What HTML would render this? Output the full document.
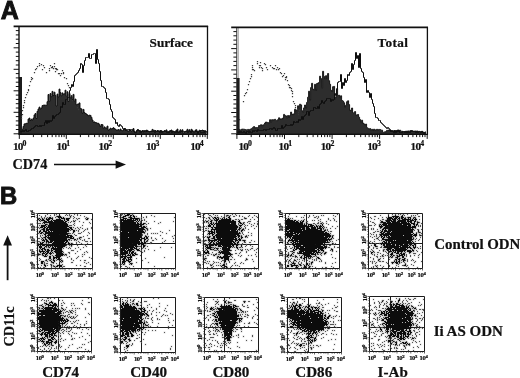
<!DOCTYPE html>
<html lang="en"><head><meta charset="utf-8"><title>CD74 expression – Figure</title>
<style>html,body{margin:0;padding:0;background:#fff}body{width:520px;height:378px;overflow:hidden}svg{display:block;filter:grayscale(1)}text{font-family:"Liberation Serif","DejaVu Serif",serif;font-weight:bold;fill:#111;stroke:#111;stroke-width:.22px}.s{font-family:"Liberation Sans","DejaVu Sans",sans-serif}</style>
</head><body>
<svg width="520" height="378" viewBox="0 0 520 378">
<rect width="520" height="378" fill="#fff"/>
<text class="s" x="0.7" y="18.5" font-size="25" style="stroke-width:.9px">A</text>
<text class="s" x="0" y="204" font-size="23.8" style="stroke-width:.9px">B</text>
<g><path d="M20 134.3V129.2H21V129.8H22V129.2H23V126.4H24V123.9H25V123.8H26V123.3H27V123.4H28V119.1H29V118.1H30V120.5H31V119.2H32V120H33V118.1H34V114.9H35V113.5H36V118.5H37V111.3H38V109H39V107.1H40V108.9H41V108H42V105.6H43V105.2H44V105.1H45V105.2H46V105.4H47V101.7H48V94.5H49V101.3H50V93.6H51V96.7H52V91.4H53V95.5H54V92.2H55V95.4H56V106H57V94.1H58V97H59V89.1H60V92.6H61V95.8H62V92.9H63V94.3H64V93.8H65V90.2H66V96.2H67V91.8H68V101.5H69V93.5H70V97.8H71V95.6H72V99.1H73V94.4H74V101.2H75V99.1H76V104.8H77V104.2H78V104.1H79V102.9H80V108.4H81V108.9H82V113.1H83V109.4H84V112.6H85V113.5H86V114H87V114.9H88V115.8H89V115.2H90V115.4H91V117.4H92V120H93V122.1H94V121.9H95V122.6H96V122.8H97V123.3H98V123.3H99V124.7H100V126.5H101V124.5H102V124.7H103V128.4H104V126.9H105V127.9H106V128H107V126.1H108V130.1H109V129.6H110V128.2H111V128.9H112V128.5H113V127.7H114V128.6H115V129.3H116V130.1H117V130H118V129.6H119V130.8H120V129H121V130.4H122V130.8H123V129.7H124V128.5H125V129.3H126V130.4H127V130.7H128V131.6H129V129.6H130V130.5H131V131H132V130.4H133V128.6H134V131.2H135V132.4H136V131.4H137V129.9H138V130.3H139V130.8H140V132.7H141V131.2H142V130.8H143V132H144V130.7H145V132.2H146V130.2H147V130.4H148V131.4H149V131.9H150V131.3H151V131.1H152V129.4H153V130.3H154V130.4H155V130.5H156V131.4H157V130.7H158V131.6H159V131H160V130.7H161V131.1H162V131.3H163V131.7H164V130.6H165V130.8H166V129.9H167V132.2H168V132.1H169V130.9H170V130.6H171V130H172V131.1H173V131.2H174V132.7H175V131.2H176V130.4H177V129.1H178V132.1H179V131.1H180V129.8H181V131.1H182V129.8H183V133.3H184V131.9H185V131.4H186V130.9H187V129.3H188V130.9H189V129.8H190V131.5H191V129.3H192V130.3H193V131.9H194V132.3H195V130.1H196V129.8H197V131.7H198V131.7H199V130.2H200V130.5H201V130.5H202V130.1H203V130.5H204V132H205V131.5H206V132.6V134.3Z" fill="#2d2d2d" stroke="#0c0c0c" stroke-width=".9"/>
<rect x="19" y="77" width="3" height="57.3" fill="#1c1c1c"/>
<path d="M20.5 131.5H21.5V131.5H22.5V130.5H23.5V131.5H24.5V130.5H25.5V129.5H26.5V131.5H27.5V131.5H28.5V130.5H29.5V130.5H30.5V129.5H31.5V128.5H32.5V128.5H33.5V127.5H34.5V126.5H35.5V125.5H36.5V125.5H37.5V126.5H38.5V126.5H39.5V125.5H40.5V126.5H41.5V125.5H42.5V125.5H43.5V125.5H44.5V122.5H45.5V120.5H46.5V123.5H47.5V120.5H48.5V122.5H49.5V120.5H50.5V121.5H51.5V120.5H52.5V115.5H53.5V118.5H54.5V116.5H55.5V115.5H56.5V114.5H57.5V114.5H58.5V113.5H59.5V112.5H60.5V106.5H61.5V107.5H62.5V102.5H63.5V104.5H64.5V104.5H65.5V99.5H66.5V99.5H67.5V97.5H68.5V97.5H69.5V90.5H70.5V87.5H71.5V84.5H72.5V86.5H73.5V81.5H74.5V75.5H75.5V74.5H76.5V73.5H77.5V72.5H78.5V70.5H79.5V68.5H80.5V63.5H81.5V64.5H82.5V72.5H83.5V65.5H84.5V60.5H85.5V57.5H86.5V57.5H87.5V57.5H88.5V53.5H89.5V58.5H90.5V58.5H91.5V54.5H92.5V54.5H93.5V53.5H94.5V53.5H95.5V63.5H96.5V49.5H97.5V59.5H98.5V63.5H99.5V71.5H100.5V80.5H101.5V86.5H102.5V86.5H103.5V87.5H104.5V88.5H105.5V92.5H106.5V98.5H107.5V98.5H108.5V99.5H109.5V104.5H110.5V109.5H111.5V111.5H112.5V117.5H113.5V118.5H114.5V119.5H115.5V123.5H116.5V122.5H117.5V125.5H118.5V126.5H119.5V124.5H120.5V125.5H121.5V126.5H122.5V128.5H123.5V129.5H124.5V128.5H125.5V130.5H126.5V129.5H127.5V129.5H128.5V129.5H129.5V130.5H130.5V129.5H131.5V129.5H132.5V129.5H133.5V131.5H134.5V132.5H135.5V132.5H136.5V130.5H137.5V129.5H138.5V130.5H139.5V130.5H140.5V132.5H141.5V131.5H142.5V130.5H143.5V131.5H144.5V131.5H145.5V130.5H146.5V131.5H147.5V131.5H148.5V131.5H149.5V131.5H150.5V131.5H151.5V131.5H152.5V131.5H153.5V131.5H154.5V132.5H155.5V131.5H156.5V131.5H157.5V130.5H158.5V131.5H159.5V132.5H160.5V130.5H161.5V132.5H162.5V131.5H163.5V131.5H164.5V131.5H165.5V131.5H166.5V132.5H167.5V131.5H168.5V132.5H169.5V131.5H170.5V131.5H171.5V132.5H172.5V131.5H173.5V131.5H174.5V132.5H175.5V132.5H176.5V130.5H177.5V132.5H178.5V132.5H179.5V132.5H180.5V131.5H181.5V131.5H182.5V131.5H183.5V131.5H184.5V131.5H185.5V131.5H186.5V131.5H187.5V132.5H188.5V131.5H189.5V131.5H190.5V132.5H191.5V131.5H192.5V131.5H193.5V131.5H194.5V131.5H195.5V131.5H196.5V131.5H197.5V133.5H198.5V131.5H199.5V131.5H200.5V132.5H201.5V132.5H202.5V132.5H203.5V132.5H204.5V130.5H205.5V131.5H206.5V132.5" fill="none" stroke="#0e0e0e" stroke-width="1" stroke-linejoin="miter"/>
<path d="M21.5 118.5h0M23.5 105.5h0M24.5 100.5h0M25.5 97.5h0M26.5 94.5h0M27.5 92.5h0M28.5 90.5h0M29.5 85.5h0M30.5 81.5h0M31.5 77.5h0M32.5 78.5h0M36.5 68.5h0M37.5 66.5h0M39.5 63.5h0M41.5 64.5h0M42.5 69.5h0M43.5 65.5h0M44.5 67.5h0M46.5 72.5h0M49.5 70.5h0M50.5 65.5h0M52.5 66.5h0M53.5 68.5h0M54.5 63.5h0M55.5 71.5h0M56.5 68.5h0M62.5 70.5h0M63.5 72.5h0M64.5 77.5h0M67.5 83.5h0M72.5 100.5h0M78.5 109.5h0M21.5 116.5h0M22.5 114.5h0M22.5 110.5h0M23.5 107.5h0M24.5 102.5h0M28.5 89.5h0M31.5 79.5h0M34.5 72.5h0M35.5 69.5h0M39.5 65.5h0M49.5 68.5h0M51.5 67.5h0M52.5 67.5h0M54.5 66.5h0M54.5 66.5h0M55.5 68.5h0M56.5 69.5h0M57.5 69.5h0M58.5 73.5h0M59.5 73.5h0M60.5 75.5h0M61.5 73.5h0M63.5 73.5h0M66.5 78.5h0M68.5 85.5h0M69.5 87.5h0M71.5 95.5h0M72.5 97.5h0M77.5 107.5h0" fill="none" stroke="#3a3a3a" stroke-width="1.25" stroke-linecap="square"/>
<path d="M207.5 26V134.3H18.4" fill="none" stroke="#111" stroke-width="1.3"/>
<path d="M19 26V134.3" stroke="#111" stroke-width="1.4"/>
<path d="M13.6 26.3H208.1" stroke="#111" stroke-width="1.7"/>
<path d="M19 30.6h-3.2M19 34.9h-3.2M19 39.2h-3.2M19 43.5h-3.2M19 47.8h-5.4M19 52.1h-3.2M19 56.4h-3.2M19 60.7h-3.2M19 65h-3.2M19 69.3h-5.4M19 73.6h-3.2M19 77.9h-3.2M19 82.2h-3.2M19 86.5h-3.2M19 90.8h-5.4M19 95.1h-3.2M19 99.4h-3.2M19 103.7h-3.2M19 108h-3.2M19 112.3h-5.4M19 116.6h-3.2M19 120.9h-3.2M19 125.2h-3.2M19 129.5h-3.2M19 133.8h-5.4" stroke="#111" stroke-width="1"/>
<path d="M19.3 134.3v4.6M33.4 134.3v2.8M41.7 134.3v2.8M47.6 134.3v2.8M52.2 134.3v2.8M55.9 134.3v2.8M59 134.3v2.8M61.7 134.3v2.8M64.1 134.3v2.8M66.3 134.3v4.6M80.4 134.3v2.8M88.7 134.3v2.8M94.6 134.3v2.8M99.2 134.3v2.8M102.9 134.3v2.8M106 134.3v2.8M108.7 134.3v2.8M111.1 134.3v2.8M113.3 134.3v4.6M127.4 134.3v2.8M135.7 134.3v2.8M141.6 134.3v2.8M146.2 134.3v2.8M149.9 134.3v2.8M153 134.3v2.8M155.7 134.3v2.8M158.1 134.3v2.8M160.3 134.3v4.6M174.4 134.3v2.8M182.7 134.3v2.8M188.6 134.3v2.8M193.2 134.3v2.8M196.9 134.3v2.8M200 134.3v2.8M202.7 134.3v2.8M205.1 134.3v2.8M207.3 134.3v4.6" stroke="#111" stroke-width="1"/>
<text x="12.9" y="150.4" font-size="11.2" letter-spacing="-.8">10<tspan dy="-4.1" font-size="7.8">0</tspan></text>
<text x="56.6" y="150.4" font-size="11.2" letter-spacing="-.8">10<tspan dy="-4.1" font-size="7.8">1</tspan></text>
<text x="98.6" y="150.4" font-size="11.2" letter-spacing="-.8">10<tspan dy="-4.1" font-size="7.8">2</tspan></text>
<text x="146" y="150.4" font-size="11.2" letter-spacing="-.8">10<tspan dy="-4.1" font-size="7.8">3</tspan></text>
<text x="190.2" y="150.4" font-size="11.2" letter-spacing="-.8">10<tspan dy="-4.1" font-size="7.8">4</tspan></text>
<text x="149.6" y="47" font-size="13.2" letter-spacing="0">Surface</text></g>
<g><path d="M237.6 134.3V132.3H238.6V129.4H239.6V130.4H240.6V129.7H241.6V129.1H242.6V129.2H243.6V129.2H244.6V129.5H245.6V129.8H246.6V130.2H247.6V129.4H248.6V130.1H249.6V129.4H250.6V128.9H251.6V128.4H252.6V127.4H253.6V126.6H254.6V127.8H255.6V127.5H256.6V127.7H257.6V127.5H258.6V125.5H259.6V125.6H260.6V124.7H261.6V126.7H262.6V124.9H263.6V124.7H264.6V123H265.6V122H266.6V122.4H267.6V122.6H268.6V122.9H269.6V119.7H270.6V121.9H271.6V119.7H272.6V119.8H273.6V119.8H274.6V119.3H275.6V120.4H276.6V120.7H277.6V119.6H278.6V117.8H279.6V119.1H280.6V118.8H281.6V119.3H282.6V118H283.6V114.4H284.6V115.6H285.6V115.9H286.6V117.9H287.6V115.5H288.6V117.1H289.6V115.5H290.6V112.1H291.6V114.1H292.6V114.6H293.6V113.8H294.6V109.2H295.6V112.7H296.6V109.9H297.6V105.8H298.6V108.5H299.6V104.2H300.6V104.9H301.6V110.7H302.6V112.5H303.6V107.9H304.6V105H305.6V108H306.6V102.4H307.6V97.2H308.6V91.2H309.6V100H310.6V87.6H311.6V83.3H312.6V89.1H313.6V89.8H314.6V84.3H315.6V90.1H316.6V83.5H317.6V83.1H318.6V82.5H319.6V76.2H320.6V78.6H321.6V87.8H322.6V71.3H323.6V76.4H324.6V79.4H325.6V75.7H326.6V79.4H327.6V73.5H328.6V80.7H329.6V84.3H330.6V90.3H331.6V91.1H332.6V86.7H333.6V86.4H334.6V98.8H335.6V96.8H336.6V88.6H337.6V95.5H338.6V95.2H339.6V97.6H340.6V95.8H341.6V100.5H342.6V101.2H343.6V102.8H344.6V107H345.6V105.2H346.6V101.7H347.6V100.8H348.6V104.6H349.6V110.1H350.6V110.6H351.6V108H352.6V113.2H353.6V112.7H354.6V111.6H355.6V114.9H356.6V115H357.6V114.5H358.6V117.2H359.6V119.6H360.6V122.6H361.6V120.2H362.6V123.1H363.6V123.9H364.6V124.8H365.6V124.1H366.6V127.7H367.6V128.4H368.6V129.3H369.6V128.6H370.6V129.9H371.6V129.3H372.6V130.1H373.6V129.2H374.6V130H375.6V129.8H376.6V129.3H377.6V129.9H378.6V129.4H379.6V129.5H380.6V130.2H381.6V130.2H382.6V132.4H383.6V132.2H384.6V131.8H385.6V131.6H386.6V130.3H387.6V131.2H388.6V129.9H389.6V130.6H390.6V130.7H391.6V130.8H392.6V131.7H393.6V130.5H394.6V132.9H395.6V130.7H396.6V131.8H397.6V129.9H398.6V131.8H399.6V130.2H400.6V131.3H401.6V131.2H402.6V131.8H403.6V131.7H404.6V131.5H405.6V131.1H406.6V132.7H407.6V130.9H408.6V131.3H409.6V130.9H410.6V131.4H411.6V130.6H412.6V131H413.6V131.7H414.6V130.9H415.6V131.7H416.6V130.9H417.6V132.4H418.6V131.3H419.6V132.7H420.6V131.8H421.6V131.3H422.6V132.1H423.6V132.3H424.6V132.6H425.6V132.5V134.3Z" fill="#2d2d2d" stroke="#0c0c0c" stroke-width=".9"/>
<rect x="236.6" y="78" width="3" height="56.3" fill="#1c1c1c"/>
<path d="M237.5 132.5H238.5V131.5H239.5V132.5H240.5V131.5H241.5V132.5H242.5V132.5H243.5V131.5H244.5V132.5H245.5V133.5H246.5V131.5H247.5V131.5H248.5V132.5H249.5V131.5H250.5V132.5H251.5V132.5H252.5V130.5H253.5V131.5H254.5V130.5H255.5V130.5H256.5V131.5H257.5V129.5H258.5V130.5H259.5V130.5H260.5V130.5H261.5V130.5H262.5V130.5H263.5V129.5H264.5V129.5H265.5V130.5H266.5V129.5H267.5V129.5H268.5V129.5H269.5V128.5H270.5V128.5H271.5V129.5H272.5V128.5H273.5V127.5H274.5V128.5H275.5V130.5H276.5V130.5H277.5V128.5H278.5V128.5H279.5V128.5H280.5V128.5H281.5V125.5H282.5V128.5H283.5V127.5H284.5V126.5H285.5V124.5H286.5V125.5H287.5V125.5H288.5V125.5H289.5V125.5H290.5V124.5H291.5V125.5H292.5V124.5H293.5V121.5H294.5V122.5H295.5V122.5H296.5V121.5H297.5V122.5H298.5V119.5H299.5V120.5H300.5V119.5H301.5V116.5H302.5V119.5H303.5V116.5H304.5V115.5H305.5V114.5H306.5V111.5H307.5V111.5H308.5V115.5H309.5V111.5H310.5V110.5H311.5V110.5H312.5V110.5H313.5V107.5H314.5V107.5H315.5V108.5H316.5V108.5H317.5V106.5H318.5V108.5H319.5V104.5H320.5V103.5H321.5V100.5H322.5V102.5H323.5V103.5H324.5V101.5H325.5V100.5H326.5V98.5H327.5V98.5H328.5V98.5H329.5V98.5H330.5V101.5H331.5V99.5H332.5V100.5H333.5V99.5H334.5V93.5H335.5V95.5H336.5V89.5H337.5V82.5H338.5V81.5H339.5V81.5H340.5V74.5H341.5V88.5H342.5V82.5H343.5V85.5H344.5V78.5H345.5V82.5H346.5V80.5H347.5V74.5H348.5V75.5H349.5V72.5H350.5V71.5H351.5V63.5H352.5V69.5H353.5V64.5H354.5V60.5H355.5V52.5H356.5V58.5H357.5V55.5H358.5V67.5H359.5V53.5H360.5V68.5H361.5V71.5H362.5V72.5H363.5V77.5H364.5V82.5H365.5V79.5H366.5V92.5H367.5V90.5H368.5V92.5H369.5V97.5H370.5V93.5H371.5V99.5H372.5V103.5H373.5V106.5H374.5V113.5H375.5V117.5H376.5V117.5H377.5V118.5H378.5V120.5H379.5V120.5H380.5V122.5H381.5V123.5H382.5V124.5H383.5V125.5H384.5V126.5H385.5V127.5H386.5V128.5H387.5V127.5H388.5V128.5H389.5V129.5H390.5V131.5H391.5V130.5H392.5V131.5H393.5V132.5H394.5V130.5H395.5V132.5H396.5V130.5H397.5V131.5H398.5V130.5H399.5V132.5H400.5V132.5H401.5V132.5H402.5V131.5H403.5V131.5H404.5V132.5H405.5V131.5H406.5V132.5H407.5V131.5H408.5V132.5H409.5V132.5H410.5V130.5H411.5V131.5H412.5V131.5H413.5V131.5H414.5V131.5H415.5V132.5H416.5V131.5H417.5V132.5H418.5V131.5H419.5V131.5H420.5V132.5H421.5V131.5H422.5V132.5H423.5V133.5H424.5V132.5H425.5V131.5" fill="none" stroke="#0e0e0e" stroke-width="1" stroke-linejoin="miter"/>
<path d="M243.5 101.5h0M246.5 92.5h0M247.5 89.5h0M248.5 84.5h0M249.5 81.5h0M250.5 78.5h0M251.5 74.5h0M252.5 65.5h0M253.5 69.5h0M254.5 70.5h0M259.5 67.5h0M260.5 62.5h0M262.5 70.5h0M264.5 63.5h0M266.5 67.5h0M267.5 69.5h0M270.5 65.5h0M276.5 69.5h0M280.5 72.5h0M281.5 73.5h0M282.5 76.5h0M284.5 73.5h0M285.5 79.5h0M286.5 76.5h0M288.5 84.5h0M289.5 87.5h0M290.5 87.5h0M291.5 90.5h0M292.5 93.5h0M294.5 103.5h0M295.5 107.5h0M297.5 109.5h0M298.5 114.5h0M239.5 119.5h0M244.5 95.5h0M245.5 93.5h0M251.5 76.5h0M252.5 69.5h0M252.5 67.5h0M257.5 63.5h0M257.5 61.5h0M259.5 65.5h0M260.5 65.5h0M261.5 67.5h0M262.5 68.5h0M265.5 64.5h0M272.5 67.5h0M273.5 68.5h0M274.5 68.5h0M275.5 65.5h0M277.5 67.5h0M277.5 67.5h0M278.5 69.5h0M279.5 68.5h0M279.5 68.5h0M283.5 75.5h0M285.5 77.5h0M286.5 77.5h0M287.5 80.5h0M289.5 85.5h0M291.5 88.5h0M292.5 91.5h0M292.5 96.5h0M293.5 101.5h0M295.5 105.5h0M298.5 112.5h0M299.5 110.5h0" fill="none" stroke="#3a3a3a" stroke-width="1.25" stroke-linecap="square"/>
<path d="M427.4 27V134.3H236" fill="none" stroke="#111" stroke-width="1.3"/>
<path d="M237.6 28V78" stroke="#9a9a9a" stroke-width="2.2"/>
<path d="M237.6 28V78" stroke="#d8d8d8" stroke-width=".7"/>
<path d="M236.5 27V134.3" stroke="#333" stroke-width=".7"/>
<path d="M231.2 27.3H428" stroke="#111" stroke-width="1.7"/>
<path d="M236.6 31.6h-3.2M236.6 35.8h-3.2M236.6 40.1h-3.2M236.6 44.3h-3.2M236.6 48.6h-5.4M236.6 52.9h-3.2M236.6 57.1h-3.2M236.6 61.4h-3.2M236.6 65.6h-3.2M236.6 69.9h-5.4M236.6 74.2h-3.2M236.6 78.4h-3.2M236.6 82.7h-3.2M236.6 86.9h-3.2M236.6 91.2h-5.4M236.6 95.5h-3.2M236.6 99.7h-3.2M236.6 104h-3.2M236.6 108.2h-3.2M236.6 112.5h-5.4M236.6 116.8h-3.2M236.6 121h-3.2M236.6 125.3h-3.2M236.6 129.5h-3.2M236.6 133.8h-5.4" stroke="#111" stroke-width="1"/>
<path d="M236.9 134.3v4.6M251.2 134.3v2.8M259.6 134.3v2.8M265.5 134.3v2.8M270.2 134.3v2.8M273.9 134.3v2.8M277.1 134.3v2.8M279.9 134.3v2.8M282.3 134.3v2.8M284.5 134.3v4.6M298.8 134.3v2.8M307.2 134.3v2.8M313.1 134.3v2.8M317.7 134.3v2.8M321.5 134.3v2.8M324.7 134.3v2.8M327.4 134.3v2.8M329.9 134.3v2.8M332.1 134.3v4.6M346.4 134.3v2.8M354.7 134.3v2.8M360.7 134.3v2.8M365.3 134.3v2.8M369.1 134.3v2.8M372.3 134.3v2.8M375 134.3v2.8M377.4 134.3v2.8M379.6 134.3v4.6M393.9 134.3v2.8M402.3 134.3v2.8M408.3 134.3v2.8M412.9 134.3v2.8M416.6 134.3v2.8M419.8 134.3v2.8M422.6 134.3v2.8M425 134.3v2.8M427.2 134.3v4.6" stroke="#111" stroke-width="1"/>
<text x="238.4" y="150.4" font-size="11.2" letter-spacing="-.8">10<tspan dy="-4.1" font-size="7.8">0</tspan></text>
<text x="278.6" y="150.4" font-size="11.2" letter-spacing="-.8">10<tspan dy="-4.1" font-size="7.8">1</tspan></text>
<text x="320.8" y="150.4" font-size="11.2" letter-spacing="-.8">10<tspan dy="-4.1" font-size="7.8">2</tspan></text>
<text x="367.3" y="150.4" font-size="11.2" letter-spacing="-.8">10<tspan dy="-4.1" font-size="7.8">3</tspan></text>
<text x="410.6" y="150.4" font-size="11.2" letter-spacing="-.8">10<tspan dy="-4.1" font-size="7.8">4</tspan></text>
<text x="377.6" y="46.8" font-size="13.2" letter-spacing=".4">Total</text></g>
<text x="12.6" y="169" font-size="14.2">CD74</text>
<path d="M54 164.6H118" stroke="#111" stroke-width="1.5"/><path d="M126 164.6L115.6 160.4V168.8Z" fill="#111"/>
<g fill="none" stroke="#0c0c0c" stroke-width="1" stroke-linecap="square"><path d="M37.5 213.5H92.5V268.5H37.5ZM59.5 213.5V268.5M37.5 244.5H92.5" stroke="#1c1c1c" stroke-linecap="butt"/>
<path id="d1" d="M59.5 215.5h0M57.5 216.5h3m10 0h0M49.5 217.5h1m8 0h0m2 0h1m2 0h0M39.5 218.5h0m3 0h0m4 0h0m2 0h4m9 0h3m2 0h3m18 0h0M38.5 219.5h0m2 0h0m2 0h1m3 0h3m3 0h0m4 0h4m4 0h0m2 0h2m18 0h1M39.5 220.5h0m2 0h3m3 0h1m3 0h0m2 0h9m2 0h0m3 0h1M44.5 221.5h2m2 0h4m2 0h9m2 0h1m8 0h0M43.5 222.5h22M44.5 223.5h0m5 0h17M45.5 224.5h1m3 0h18M41.5 225.5h4m3 0h19M41.5 226.5h3m2 0h0m2 0h20M40.5 227.5h2m2 0h1m2 0h19m3 0h2M43.5 228.5h1m2 0h1m2 0h19m2 0h1M42.5 229.5h2m2 0h23m2 0h1M40.5 230.5h0m3 0h1m2 0h2m2 0h18m5 0h1M39.5 231.5h1m3 0h3m2 0h1m2 0h0m2 0h15m5 0h1M39.5 232.5h0m2 0h1m3 0h21m7 0h0M40.5 233.5h1m4 0h23M44.5 234.5h1m3 0h10m2 0h7M45.5 235.5h0m2 0h18m2 0h4M45.5 236.5h1m2 0h0m2 0h18m2 0h2M44.5 237.5h1m2 0h24m2 0h0m7 0h0M42.5 238.5h0m3 0h0m3 0h18m4 0h3m6 0h0M43.5 239.5h0m2 0h1m3 0h17m2 0h1m5 0h1M42.5 240.5h2m2 0h1m3 0h17M44.5 241.5h0m2 0h2m2 0h2m2 0h10m2 0h1M40.5 242.5h0m2 0h1m3 0h0m2 0h3m2 0h10m2 0h1m2 0h0M40.5 243.5h2m10 0h13m3 0h1m2 0h0M38.5 244.5h3m2 0h0m2 0h0m7 0h12m6 0h0m2 0h0M38.5 245.5h0m2 0h0m2 0h2m2 0h19m6 0h0M39.5 246.5h2m4 0h1m2 0h0m2 0h0m2 0h0m2 0h10M39.5 247.5h2m3 0h0m5 0h0m3 0h1m2 0h0m2 0h5M40.5 248.5h0m2 0h2m7 0h10M41.5 249.5h1m2 0h1m2 0h1m3 0h0m2 0h8M39.5 250.5h0m3 0h0m3 0h0m2 0h2m2 0h1m3 0h6M39.5 251.5h5m2 0h2m3 0h0m3 0h8M40.5 252.5h0m3 0h0m2 0h0m2 0h1m2 0h0m2 0h0m3 0h6M42.5 253.5h2m2 0h1m2 0h2m5 0h6M38.5 254.5h1m3 0h0m3 0h1m4 0h0m6 0h7m2 0h0M43.5 255.5h0m2 0h0m10 0h7M44.5 256.5h2m3 0h1m3 0h0m3 0h4M49.5 257.5h1m3 0h6M49.5 258.5h1m3 0h1m2 0h0m2 0h1M53.5 259.5h0m4 0h3M46.5 260.5h0m4 0h0m3 0h1m7 0h0M41.5 261.5h2m8 0h0m3 0h0m6 0h0m2 0h0M41.5 262.5h1m10 0h1M41.5 263.5h1M44.5 264.5h0m15 0h0M44.5 265.5h1m6 0h0m6 0h4M45.5 266.5h0m9 0h0m2 0h1m3 0h1"/>
<use href="#d1" stroke-width="2" opacity=".32"/>
<path id="s1" d="M47.5 214.5h0m7 0h0m2 0h0m10 0h0m3 0h0m5 0h0m3 0h0M39.5 215.5h0m6 0h0m5 0h0m4 0h0m11 0h0m2 0h0m2 0h0m2 0h0m6 0h0m3 0h0M41.5 216.5h0m4 0h0m11 0h0m17 0h0m11 0h0M41.5 217.5h0m3 0h0m3 0h0m5 0h0m3 0h0m15 0h0m4 0h0m12 0h0M38.5 218.5h0m6 0h0m29 0h0m3 0h0m2 0h1m6 0h0m3 0h0M77.5 219.5h0m14 0h0M73.5 220.5h0m2 0h0M40.5 221.5h0m31 0h0m2 0h0m6 0h0M68.5 222.5h0m2 0h0m13 0h0m6 0h0M38.5 223.5h2m2 0h0m32 0h0m16 0h0M47.5 224.5h0m26 0h0M39.5 225.5h0m30 0h2m3 0h0m8 0h0M38.5 227.5h0m35 0h0m4 0h0m3 0h0m11 0h0M39.5 228.5h0m36 0h0m3 0h0m4 0h0m5 0h0m4 0h0M41.5 229.5h0m38 0h0m6 0h0m2 0h0M70.5 230.5h0m6 0h0m2 0h0m6 0h0M78.5 231.5h0m5 0h0M81.5 232.5h0m7 0h0M38.5 233.5h0m5 0h0m26 0h1m2 0h0m6 0h2m9 0h0M74.5 234.5h0M40.5 235.5h0m2 0h0m33 0h1m11 0h0M40.5 236.5h0m43 0h0M41.5 237.5h0m2 0h0m36 0h0m2 0h0M38.5 238.5h1m38 0h0m11 0h1M41.5 239.5h0m36 0h0m3 0h0m4 0h0M69.5 240.5h0m2 0h0m3 0h0m2 0h0m6 0h0m2 0h0M38.5 241.5h1m39 0h0m7 0h2m3 0h0M76.5 242.5h0m3 0h0M38.5 243.5h0m8 0h0m2 0h0m24 0h0m4 0h0m5 0h0m6 0h0M67.5 244.5h0m16 0h1M66.5 245.5h0m3 0h0m8 0h0m8 0h0M71.5 246.5h0m15 0h0M46.5 247.5h0m2 0h0m18 0h0m3 0h0m9 0h0m5 0h0M63.5 248.5h0m5 0h0m2 0h0m5 0h0M39.5 249.5h0m41 0h0M71.5 250.5h2M77.5 251.5h0m9 0h0M63.5 252.5h0m5 0h1m15 0h0m3 0h0M38.5 253.5h0m15 0h0m16 0h0m6 0h0M40.5 254.5h0m26 0h0m16 0h0m2 0h0M38.5 255.5h0m4 0h0m5 0h0m5 0h0m12 0h0m2 0h0M69.5 256.5h0m9 0h0m4 0h0M67.5 257.5h0m10 0h0m12 0h0M39.5 258.5h0m22 0h0m10 0h0m5 0h0m15 0h0M40.5 259.5h0m6 0h0m2 0h0m3 0h0m20 0h0M39.5 260.5h0m6 0h0m4 0h0m7 0h0m6 0h0m11 0h0m7 0h0m4 0h1M47.5 261.5h0m12 0h0M44.5 262.5h0m7 0h0m10 0h0m10 0h1m12 0h0m4 0h0M44.5 263.5h0m2 0h1m6 0h0m3 0h0m30 0h0M38.5 264.5h0m12 0h1m11 0h0m28 0h0M41.5 265.5h0m6 0h0m6 0h0m23 0h0m4 0h0M51.5 266.5h0m2 0h0m10 0h1m20 0h1M38.5 267.5h0m2 0h0m3 0h1m7 0h0m4 0h0m7 0h0" stroke="#555"/>
<use href="#s1" stroke-width="2" opacity=".2"/>
<path d="M37.5 268.5v2M41.6 268.5v1.2M44.1 268.5v1.2M47.1 268.5v1.2M49.1 268.5v1.2M51.2 268.5v2M55.4 268.5v1.2M57.8 268.5v1.2M60.9 268.5v1.2M62.9 268.5v1.2M65 268.5v2M69.1 268.5v1.2M71.6 268.5v1.2M74.6 268.5v1.2M76.6 268.5v1.2M78.8 268.5v2M82.9 268.5v1.2M85.3 268.5v1.2M88.4 268.5v1.2M90.4 268.5v1.2M92.5 268.5v2M37.5 268.5h-2M37.5 264.4h-1.2M37.5 261.9h-1.2M37.5 258.9h-1.2M37.5 256.9h-1.2M37.5 254.8h-2M37.5 250.6h-1.2M37.5 248.2h-1.2M37.5 245.1h-1.2M37.5 243.1h-1.2M37.5 241h-2M37.5 236.9h-1.2M37.5 234.4h-1.2M37.5 231.4h-1.2M37.5 229.4h-1.2M37.5 227.2h-2M37.5 223.1h-1.2M37.5 220.7h-1.2M37.5 217.6h-1.2M37.5 215.6h-1.2M37.5 213.5h-2" stroke="#222" stroke-width=".7" stroke-linecap="butt"/>
<g font-size="6.6" fill="#222" style="stroke:none" letter-spacing="-.4"><text x="35.8" y="277">10<tspan dy="-2.4" font-size="4.8">0</tspan></text><text x="51" y="277">10<tspan dy="-2.4" font-size="4.8">1</tspan></text><text x="64.4" y="277">10<tspan dy="-2.4" font-size="4.8">2</tspan></text><text x="77.2" y="277">10<tspan dy="-2.4" font-size="4.8">3</tspan></text><text x="87.6" y="277">10<tspan dy="-2.4" font-size="4.8">4</tspan></text><text transform="translate(35.3 269.7) rotate(-90)">10<tspan dy="-2.4" font-size="4.8">0</tspan></text><text transform="translate(35.3 257.1) rotate(-90)">10<tspan dy="-2.4" font-size="4.8">1</tspan></text><text transform="translate(35.3 244.3) rotate(-90)">10<tspan dy="-2.4" font-size="4.8">2</tspan></text><text transform="translate(35.3 231.6) rotate(-90)">10<tspan dy="-2.4" font-size="4.8">3</tspan></text><text transform="translate(35.3 218.2) rotate(-90)">10<tspan dy="-2.4" font-size="4.8">4</tspan></text></g></g>
<g fill="none" stroke="#0c0c0c" stroke-width="1" stroke-linecap="square"><path d="M120.5 213.5H175.5V268.5H120.5ZM141.5 213.5V268.5M120.5 243.5H175.5" stroke="#1c1c1c" stroke-linecap="butt"/>
<path id="d2" d="M127.5 214.5h2M125.5 215.5h3m2 0h1m2 0h0M123.5 216.5h2m5 0h0m3 0h1M122.5 217.5h1m6 0h2m3 0h0M123.5 218.5h3m4 0h8M121.5 219.5h2m2 0h0m2 0h4m2 0h0m2 0h2m2 0h0M121.5 220.5h14m2 0h0m2 0h0M121.5 221.5h0m2 0h10m3 0h0m2 0h0M121.5 222.5h14m2 0h0M121.5 223.5h14m2 0h1m2 0h0m3 0h1M121.5 224.5h19m2 0h1M121.5 225.5h17m2 0h1M121.5 226.5h20m2 0h1M121.5 227.5h17m3 0h4M121.5 228.5h22m3 0h0M121.5 229.5h23m3 0h0M121.5 230.5h15m2 0h2m2 0h0M122.5 231.5h21M121.5 232.5h6m2 0h15M121.5 233.5h19M121.5 234.5h20M121.5 235.5h19M121.5 236.5h19m5 0h1M121.5 237.5h6m2 0h12m3 0h0m2 0h1M121.5 238.5h18m3 0h2m2 0h1M121.5 239.5h20m3 0h1M121.5 240.5h17m2 0h0m4 0h0m3 0h0M121.5 241.5h18m5 0h0m2 0h0M121.5 242.5h18m2 0h1m2 0h1M121.5 243.5h10m2 0h8m2 0h0m2 0h0M121.5 244.5h15m2 0h1m2 0h2M121.5 245.5h15m7 0h1M121.5 246.5h12m2 0h2m6 0h1M122.5 247.5h12m2 0h0m7 0h0M121.5 248.5h7m2 0h2m2 0h2M121.5 249.5h3m2 0h0m2 0h5m3 0h2M121.5 250.5h4m2 0h4m6 0h2M121.5 251.5h1m2 0h3m2 0h1m2 0h1M121.5 252.5h6m2 0h0m2 0h2M121.5 253.5h6m2 0h0m2 0h1m2 0h1M121.5 254.5h4m3 0h0m2 0h0m2 0h1m2 0h1M122.5 255.5h0m3 0h0m2 0h3m2 0h2M121.5 256.5h5m4 0h1M121.5 257.5h1m2 0h1m2 0h4M123.5 258.5h2m3 0h0m2 0h0M122.5 259.5h2m2 0h0m2 0h3M123.5 260.5h1m2 0h2m3 0h0M122.5 261.5h3m3 0h2M122.5 262.5h2m5 0h0M122.5 263.5h0m2 0h0m6 0h1M123.5 264.5h0m8 0h0"/>
<use href="#d2" stroke-width="2" opacity=".32"/>
<path id="s2" d="M121.5 214.5h1m2 0h0m8 0h0M121.5 215.5h0m30 0h0M136.5 216.5h0m10 0h0m8 0h0M121.5 217.5h0m7 0h0m13 0h0m2 0h0m3 0h0m28 0h0M139.5 218.5h0M141.5 219.5h0m3 0h0M142.5 220.5h0m2 0h0M140.5 221.5h0m6 0h0m8 0h0m19 0h0M140.5 222.5h0m20 0h0M145.5 223.5h0m3 0h0m10 0h0M146.5 224.5h0M146.5 226.5h0M147.5 228.5h0m3 0h0M145.5 230.5h0m2 0h0m22 0h0M145.5 231.5h0m15 0h0M162.5 232.5h0M144.5 233.5h0m3 0h0m4 0h0m2 0h0m2 0h0m2 0h0m9 0h0M142.5 234.5h0m5 0h0M142.5 235.5h0m3 0h0m15 0h0m14 0h0M148.5 236.5h0m24 0h0M151.5 237.5h0M151.5 238.5h0m4 0h0m7 0h0m11 0h0M148.5 239.5h0m8 0h0M152.5 240.5h1m12 0h0M147.5 241.5h0m17 0h0m9 0h0M150.5 242.5h1m11 0h0M146.5 243.5h0m4 0h0M145.5 245.5h0M138.5 246.5h2m7 0h0M160.5 247.5h0m11 0h0M139.5 248.5h0m3 0h0m3 0h0M148.5 249.5h0M134.5 250.5h0m7 0h0m3 0h0m10 0h0M140.5 251.5h0m4 0h0M135.5 252.5h0m7 0h0M137.5 254.5h0M140.5 255.5h0M164.5 257.5h0M136.5 258.5h0m9 0h0M142.5 260.5h0M136.5 262.5h0m12 0h0M132.5 263.5h0M121.5 264.5h0m3 0h0m5 0h0M121.5 266.5h0m4 0h1m7 0h0m21 0h0M127.5 267.5h0m2 0h0" stroke="#555"/>
<use href="#s2" stroke-width="2" opacity=".2"/>
<path d="M120.5 268.5v2M124.6 268.5v1.2M127.1 268.5v1.2M130.1 268.5v1.2M132.1 268.5v1.2M134.2 268.5v2M138.4 268.5v1.2M140.8 268.5v1.2M143.9 268.5v1.2M145.9 268.5v1.2M148 268.5v2M152.1 268.5v1.2M154.6 268.5v1.2M157.6 268.5v1.2M159.6 268.5v1.2M161.8 268.5v2M165.9 268.5v1.2M168.3 268.5v1.2M171.4 268.5v1.2M173.4 268.5v1.2M175.5 268.5v2M120.5 268.5h-2M120.5 264.4h-1.2M120.5 261.9h-1.2M120.5 258.9h-1.2M120.5 256.9h-1.2M120.5 254.8h-2M120.5 250.6h-1.2M120.5 248.2h-1.2M120.5 245.1h-1.2M120.5 243.1h-1.2M120.5 241h-2M120.5 236.9h-1.2M120.5 234.4h-1.2M120.5 231.4h-1.2M120.5 229.4h-1.2M120.5 227.2h-2M120.5 223.1h-1.2M120.5 220.7h-1.2M120.5 217.6h-1.2M120.5 215.6h-1.2M120.5 213.5h-2" stroke="#222" stroke-width=".7" stroke-linecap="butt"/>
<g font-size="6.6" fill="#222" style="stroke:none" letter-spacing="-.4"><text x="118.8" y="277">10<tspan dy="-2.4" font-size="4.8">0</tspan></text><text x="133.9" y="277">10<tspan dy="-2.4" font-size="4.8">1</tspan></text><text x="147.4" y="277">10<tspan dy="-2.4" font-size="4.8">2</tspan></text><text x="160.2" y="277">10<tspan dy="-2.4" font-size="4.8">3</tspan></text><text x="170.6" y="277">10<tspan dy="-2.4" font-size="4.8">4</tspan></text><text transform="translate(118.3 269.7) rotate(-90)">10<tspan dy="-2.4" font-size="4.8">0</tspan></text><text transform="translate(118.3 257.1) rotate(-90)">10<tspan dy="-2.4" font-size="4.8">1</tspan></text><text transform="translate(118.3 244.3) rotate(-90)">10<tspan dy="-2.4" font-size="4.8">2</tspan></text><text transform="translate(118.3 231.6) rotate(-90)">10<tspan dy="-2.4" font-size="4.8">3</tspan></text><text transform="translate(118.3 218.2) rotate(-90)">10<tspan dy="-2.4" font-size="4.8">4</tspan></text></g></g>
<g fill="none" stroke="#0c0c0c" stroke-width="1" stroke-linecap="square"><path d="M203.5 213.5H258.5V268.5H203.5ZM224.5 213.5V268.5M203.5 244.5H258.5" stroke="#1c1c1c" stroke-linecap="butt"/>
<path id="d3" d="M227.5 215.5h0M229.5 216.5h0M214.5 217.5h1m2 0h0m11 0h1M209.5 218.5h0m4 0h0m2 0h1m2 0h0m4 0h0m4 0h0m3 0h1m15 0h0M214.5 219.5h0m2 0h2m3 0h9M211.5 220.5h0m4 0h2m2 0h11m2 0h1m6 0h0M206.5 221.5h1m3 0h1m5 0h0m2 0h17m3 0h1M211.5 222.5h0m5 0h0m2 0h17m4 0h1M210.5 223.5h1m2 0h0m2 0h14m2 0h4m5 0h1m2 0h0M209.5 224.5h0m2 0h1m2 0h0m2 0h19m7 0h0M208.5 225.5h2m3 0h0m3 0h20m3 0h2M208.5 226.5h2m3 0h0m3 0h21m3 0h0M211.5 227.5h1m2 0h23m2 0h0M212.5 228.5h0m3 0h21m3 0h1M211.5 229.5h25m2 0h1m3 0h1M211.5 230.5h0m3 0h0m2 0h13m2 0h4m2 0h0m4 0h1M208.5 231.5h4m2 0h0m2 0h21m4 0h0M209.5 232.5h0m2 0h3m2 0h21m2 0h0M208.5 233.5h4m2 0h0m3 0h22M209.5 234.5h0m3 0h1m3 0h22M212.5 235.5h0m3 0h20m2 0h2M209.5 236.5h0m4 0h1m2 0h20m2 0h1m2 0h0m4 0h1M207.5 237.5h2m4 0h1m2 0h19m3 0h0m3 0h1M208.5 238.5h0m4 0h2m3 0h3m2 0h11m2 0h1m3 0h0m2 0h0M208.5 239.5h1m5 0h22m2 0h2M205.5 240.5h0m3 0h8m2 0h14m3 0h2m2 0h1m3 0h1M209.5 241.5h0m2 0h1m2 0h0m3 0h1m2 0h13m2 0h0m3 0h0m6 0h0M210.5 242.5h1m2 0h0m3 0h0m2 0h13m2 0h1m3 0h1M209.5 243.5h1m3 0h1m2 0h16m2 0h1m2 0h0M209.5 244.5h0m2 0h1m2 0h1m2 0h0m3 0h12m2 0h0m2 0h0m2 0h0M206.5 245.5h1m2 0h4m2 0h1m2 0h2m2 0h8m2 0h1m3 0h1m4 0h0M205.5 246.5h0m2 0h0m2 0h1m8 0h3m2 0h0m2 0h6m2 0h0m3 0h0m5 0h0M206.5 247.5h5m11 0h4m2 0h2m6 0h1M207.5 248.5h3m4 0h0m2 0h1m5 0h7m8 0h0M206.5 249.5h0m4 0h1m2 0h0m4 0h0m5 0h7M207.5 250.5h0m16 0h7m11 0h0M204.5 251.5h0m3 0h1m11 0h0m2 0h7M204.5 252.5h4m11 0h10M205.5 253.5h1m2 0h0m12 0h0m2 0h8M215.5 254.5h0m9 0h7M214.5 255.5h0m10 0h3m3 0h0M218.5 256.5h0m2 0h0m3 0h6M217.5 257.5h0m2 0h9M205.5 258.5h0m16 0h1m2 0h4M204.5 259.5h0m21 0h3m18 0h0M225.5 260.5h0m3 0h0M224.5 261.5h1M224.5 262.5h0M223.5 264.5h0M211.5 265.5h0m11 0h2M221.5 266.5h0m4 0h1M226.5 267.5h0"/>
<use href="#d3" stroke-width="2" opacity=".32"/>
<path id="s3" d="M204.5 214.5h0m4 0h0m5 0h0m11 0h0m8 0h0m3 0h0M209.5 215.5h1m5 0h0m2 0h0m7 0h0m2 0h0m2 0h0m2 0h0m6 0h0m3 0h0m10 0h0m5 0h0M211.5 216.5h0m10 0h0m3 0h0m2 0h0m7 0h1m5 0h0m3 0h0m6 0h0m8 0h0M204.5 217.5h0m4 0h1m3 0h0m6 0h0m5 0h0m21 0h0m8 0h0m5 0h0M206.5 218.5h0m14 0h0m24 0h0m2 0h0M210.5 219.5h0m25 0h1m2 0h0m3 0h1m8 0h0m4 0h0M205.5 220.5h0m3 0h0m4 0h0m2 0h0M204.5 221.5h0m44 0h2m7 0h0M204.5 222.5h0m2 0h0m2 0h0m5 0h0m30 0h1m3 0h0M208.5 223.5h0m30 0h0m11 0h0m5 0h0m3 0h0M238.5 224.5h0m6 0h0m7 0h0m6 0h0M245.5 225.5h0m2 0h0m6 0h0M204.5 226.5h0m2 0h0m38 0h0m7 0h0m5 0h0M241.5 227.5h0m4 0h0M205.5 228.5h1m2 0h0m35 0h0m2 0h0m9 0h0M248.5 229.5h0M205.5 230.5h1m2 0h0m31 0h0m5 0h0M204.5 231.5h0M242.5 232.5h0m6 0h0M240.5 233.5h0m2 0h0m9 0h0M207.5 234.5h0m36 0h0M241.5 235.5h0m5 0h0m2 0h0m3 0h0M205.5 236.5h0m2 0h0m3 0h0M204.5 237.5h0m41 0h0m2 0h0M211.5 238.5h0M204.5 240.5h0m2 0h0m36 0h0m3 0h0m6 0h0M204.5 241.5h0m50 0h0M208.5 242.5h0m36 0h1m4 0h1M204.5 243.5h1m37 0h0M207.5 244.5h0m32 0h1m2 0h0m4 0h0M205.5 245.5h0m41 0h0m4 0h0M245.5 246.5h0m7 0h0M212.5 247.5h1m2 0h0m17 0h0m2 0h0m5 0h1m2 0h0M205.5 248.5h0m13 0h0m2 0h0m31 0h1m5 0h0M212.5 249.5h0m26 0h0m2 0h0m2 0h0m3 0h0m2 0h0m3 0h0m6 0h0M205.5 250.5h0m9 0h2m2 0h0m2 0h0m11 0h0m4 0h0m7 0h0m6 0h0m6 0h0M246.5 251.5h0M212.5 252.5h0m6 0h0m22 0h0m6 0h0m10 0h0M209.5 253.5h0m7 0h0m19 0h1m3 0h0M204.5 254.5h0m7 0h0m2 0h0m3 0h0m2 0h1m13 0h0m23 0h0M207.5 255.5h1m5 0h0m25 0h0m3 0h0m7 0h0m3 0h0M205.5 256.5h0m12 0h0m14 0h0m9 0h0m16 0h0M232.5 257.5h0M204.5 258.5h0m2 0h0m11 0h0m29 0h0M219.5 259.5h0m11 0h1m3 0h0m13 0h0m5 0h0M205.5 260.5h0m17 0h1m22 0h0M207.5 261.5h0m2 0h0m4 0h0m8 0h0m8 0h0m24 0h0M204.5 262.5h1m9 0h0m2 0h0m2 0h0m11 0h0m6 0h0m6 0h0M206.5 263.5h0m2 0h0m5 0h0m7 0h0m4 0h0m2 0h0m8 0h0m6 0h0m3 0h0M210.5 264.5h0m2 0h0m14 0h0M210.5 265.5h0m6 0h0m2 0h0m2 0h0m12 0h0m3 0h0m2 0h0M213.5 266.5h0m18 0h0m8 0h0M207.5 267.5h0m4 0h1m10 0h1m4 0h0m3 0h0m24 0h0" stroke="#555"/>
<use href="#s3" stroke-width="2" opacity=".2"/>
<path d="M203.5 268.5v2M207.6 268.5v1.2M210.1 268.5v1.2M213.1 268.5v1.2M215.1 268.5v1.2M217.2 268.5v2M221.4 268.5v1.2M223.8 268.5v1.2M226.9 268.5v1.2M228.9 268.5v1.2M231 268.5v2M235.1 268.5v1.2M237.6 268.5v1.2M240.6 268.5v1.2M242.6 268.5v1.2M244.8 268.5v2M248.9 268.5v1.2M251.3 268.5v1.2M254.4 268.5v1.2M256.4 268.5v1.2M258.5 268.5v2M203.5 268.5h-2M203.5 264.4h-1.2M203.5 261.9h-1.2M203.5 258.9h-1.2M203.5 256.9h-1.2M203.5 254.8h-2M203.5 250.6h-1.2M203.5 248.2h-1.2M203.5 245.1h-1.2M203.5 243.1h-1.2M203.5 241h-2M203.5 236.9h-1.2M203.5 234.4h-1.2M203.5 231.4h-1.2M203.5 229.4h-1.2M203.5 227.2h-2M203.5 223.1h-1.2M203.5 220.7h-1.2M203.5 217.6h-1.2M203.5 215.6h-1.2M203.5 213.5h-2" stroke="#222" stroke-width=".7" stroke-linecap="butt"/>
<g font-size="6.6" fill="#222" style="stroke:none" letter-spacing="-.4"><text x="201.8" y="277">10<tspan dy="-2.4" font-size="4.8">0</tspan></text><text x="216.9" y="277">10<tspan dy="-2.4" font-size="4.8">1</tspan></text><text x="230.4" y="277">10<tspan dy="-2.4" font-size="4.8">2</tspan></text><text x="243.2" y="277">10<tspan dy="-2.4" font-size="4.8">3</tspan></text><text x="253.6" y="277">10<tspan dy="-2.4" font-size="4.8">4</tspan></text><text transform="translate(201.3 269.7) rotate(-90)">10<tspan dy="-2.4" font-size="4.8">0</tspan></text><text transform="translate(201.3 257.1) rotate(-90)">10<tspan dy="-2.4" font-size="4.8">1</tspan></text><text transform="translate(201.3 244.3) rotate(-90)">10<tspan dy="-2.4" font-size="4.8">2</tspan></text><text transform="translate(201.3 231.6) rotate(-90)">10<tspan dy="-2.4" font-size="4.8">3</tspan></text><text transform="translate(201.3 218.2) rotate(-90)">10<tspan dy="-2.4" font-size="4.8">4</tspan></text></g></g>
<g fill="none" stroke="#0c0c0c" stroke-width="1" stroke-linecap="square"><path d="M285.5 213.5H339.5V268.5H285.5ZM306.5 213.5V268.5M285.5 244.5H339.5" stroke="#1c1c1c" stroke-linecap="butt"/>
<path id="d4" d="M288.5 218.5h0M287.5 219.5h2M286.5 220.5h6m2 0h1m8 0h0M286.5 221.5h8m2 0h1m3 0h0m2 0h1M286.5 222.5h12m2 0h2m4 0h0M286.5 223.5h16m19 0h0M286.5 224.5h16m2 0h0m4 0h3m11 0h0M287.5 225.5h19m2 0h0m2 0h3m3 0h0m4 0h0m2 0h0M286.5 226.5h26m2 0h0m2 0h1m2 0h2m2 0h0M286.5 227.5h18m2 0h2m3 0h4m2 0h0m2 0h1m2 0h0M286.5 228.5h14m2 0h2m2 0h3m2 0h4m2 0h4m2 0h0M286.5 229.5h2m2 0h14m2 0h11m3 0h1M286.5 230.5h0m3 0h12m2 0h18m3 0h1M286.5 231.5h38M287.5 232.5h1m2 0h2m2 0h29m2 0h1M286.5 233.5h9m2 0h1m2 0h28M286.5 234.5h6m3 0h2m2 0h30M286.5 235.5h44M287.5 236.5h4m2 0h30m2 0h5m2 0h0M287.5 237.5h0m2 0h1m2 0h35m2 0h0m3 0h0M290.5 238.5h0m2 0h34m2 0h0m3 0h0M289.5 239.5h0m2 0h1m2 0h36M288.5 240.5h9m2 0h28m2 0h0M288.5 241.5h0m4 0h1m2 0h30m2 0h0M287.5 242.5h0m4 0h0m2 0h2m2 0h0m2 0h29M292.5 243.5h1m2 0h27m2 0h0m8 0h0M293.5 244.5h21m2 0h6M293.5 245.5h1m2 0h4m3 0h17m3 0h1M294.5 246.5h28m2 0h2M294.5 247.5h0m2 0h2m2 0h3m2 0h21M294.5 248.5h0m2 0h20m2 0h5m2 0h0M293.5 249.5h0m2 0h1m3 0h15m3 0h1m2 0h2m9 0h1M293.5 250.5h1m6 0h16m2 0h1m2 0h2m9 0h0M292.5 251.5h0m7 0h4m2 0h11m2 0h0m5 0h0M293.5 252.5h0m6 0h2m2 0h8m2 0h1m2 0h3m6 0h0M292.5 253.5h0m6 0h15m2 0h0m2 0h0m4 0h0m3 0h1M288.5 254.5h0m3 0h0m12 0h6m2 0h4M287.5 255.5h1m2 0h1m13 0h6m5 0h0M287.5 256.5h0m8 0h1m5 0h0m3 0h0m2 0h5M300.5 257.5h1m3 0h2m2 0h0m2 0h0m7 0h1M303.5 258.5h1m5 0h0m9 0h1M304.5 259.5h0M289.5 260.5h0m5 0h1M293.5 262.5h0m18 0h1M292.5 263.5h2m12 0h1m4 0h0M291.5 264.5h0m3 0h0m5 0h1m6 0h1M287.5 265.5h1m3 0h6m3 0h0m4 0h0m4 0h0M287.5 266.5h1m3 0h1m4 0h0m8 0h1m4 0h0M296.5 267.5h1m7 0h1m4 0h0"/>
<use href="#d4" stroke-width="2" opacity=".32"/>
<path id="s4" d="M289.5 214.5h0m48 0h0M304.5 215.5h0m5 0h0m4 0h0m8 0h0m2 0h0m10 0h0M288.5 216.5h0m8 0h0m13 0h0m7 0h0m2 0h0m17 0h0M301.5 217.5h0m2 0h0m5 0h0m6 0h1m3 0h0M286.5 218.5h0m4 0h0m2 0h0m25 0h0m11 0h0m5 0h0M304.5 219.5h0m16 0h0m8 0h0m6 0h0M298.5 220.5h0m3 0h0m11 0h0m2 0h0m4 0h0m12 0h0m4 0h0M306.5 221.5h1m13 0h0m6 0h0m10 0h0M318.5 222.5h0m4 0h0M304.5 223.5h0m3 0h0m6 0h1m3 0h1m2 0h0m3 0h0m3 0h0M315.5 224.5h0m13 0h0M318.5 225.5h0M332.5 226.5h0m5 0h0M324.5 227.5h0m2 0h0M330.5 228.5h0m5 0h0M323.5 229.5h0m2 0h0m2 0h0M327.5 230.5h0M328.5 231.5h0m2 0h1M330.5 233.5h0M332.5 235.5h1M286.5 238.5h0m47 0h0M331.5 239.5h0m7 0h0M336.5 240.5h0M330.5 241.5h0m2 0h0M290.5 242.5h0m39 0h0M287.5 243.5h1m45 0h0m2 0h0M291.5 244.5h0m40 0h0m2 0h0M326.5 245.5h0m3 0h1M286.5 246.5h0m3 0h0m45 0h0M286.5 247.5h0m6 0h0m36 0h1m5 0h0m3 0h1M286.5 248.5h0m4 0h1m40 0h0M287.5 249.5h0M330.5 250.5h0M286.5 251.5h0m4 0h1m41 0h0m4 0h0M288.5 252.5h0m6 0h0m3 0h0m23 0h0m2 0h0m4 0h0M288.5 253.5h0m9 0h0M286.5 254.5h0m7 0h0m24 0h1m2 0h0m4 0h0m7 0h0M295.5 255.5h0m4 0h0m3 0h0m19 0h0M286.5 256.5h0m4 0h0m2 0h1m20 0h1m2 0h0M288.5 257.5h0m7 0h0m2 0h0m15 0h0m20 0h0M291.5 258.5h0m10 0h0m7 0h0m2 0h0m6 0h0m19 0h0M287.5 259.5h0m3 0h0m4 0h0m3 0h0m2 0h0m13 0h0m2 0h0m2 0h0m4 0h0M286.5 260.5h0m16 0h0m2 0h0m3 0h0m7 0h0m2 0h0m5 0h0M286.5 261.5h0m2 0h0m2 0h0m3 0h0m3 0h0m3 0h0m5 0h0m5 0h0m3 0h0m7 0h0m2 0h0M288.5 262.5h0m3 0h0m7 0h0m3 0h0m24 0h0m10 0h0M288.5 263.5h0m7 0h0m3 0h0m3 0h0m8 0h0m16 0h0m7 0h0M290.5 264.5h0m13 0h0m6 0h0m2 0h0M301.5 265.5h0M298.5 266.5h0m8 0h0m4 0h0m2 0h0m19 0h0M286.5 267.5h0m9 0h0m6 0h0m2 0h0m5 0h0m7 0h0m7 0h0m3 0h1m7 0h0" stroke="#555"/>
<use href="#s4" stroke-width="2" opacity=".2"/>
<path d="M285.5 268.5v2M289.6 268.5v1.2M291.9 268.5v1.2M294.9 268.5v1.2M296.9 268.5v1.2M299 268.5v2M303.1 268.5v1.2M305.4 268.5v1.2M308.4 268.5v1.2M310.4 268.5v1.2M312.5 268.5v2M316.6 268.5v1.2M318.9 268.5v1.2M321.9 268.5v1.2M323.9 268.5v1.2M326 268.5v2M330.1 268.5v1.2M332.4 268.5v1.2M335.4 268.5v1.2M337.4 268.5v1.2M339.5 268.5v2M285.5 268.5h-2M285.5 264.4h-1.2M285.5 261.9h-1.2M285.5 258.9h-1.2M285.5 256.9h-1.2M285.5 254.8h-2M285.5 250.6h-1.2M285.5 248.2h-1.2M285.5 245.1h-1.2M285.5 243.1h-1.2M285.5 241h-2M285.5 236.9h-1.2M285.5 234.4h-1.2M285.5 231.4h-1.2M285.5 229.4h-1.2M285.5 227.2h-2M285.5 223.1h-1.2M285.5 220.7h-1.2M285.5 217.6h-1.2M285.5 215.6h-1.2M285.5 213.5h-2" stroke="#222" stroke-width=".7" stroke-linecap="butt"/>
<g font-size="6.6" fill="#222" style="stroke:none" letter-spacing="-.4"><text x="283.8" y="277">10<tspan dy="-2.4" font-size="4.8">0</tspan></text><text x="298.7" y="277">10<tspan dy="-2.4" font-size="4.8">1</tspan></text><text x="311.9" y="277">10<tspan dy="-2.4" font-size="4.8">2</tspan></text><text x="324.5" y="277">10<tspan dy="-2.4" font-size="4.8">3</tspan></text><text x="334.6" y="277">10<tspan dy="-2.4" font-size="4.8">4</tspan></text><text transform="translate(283.3 269.7) rotate(-90)">10<tspan dy="-2.4" font-size="4.8">0</tspan></text><text transform="translate(283.3 257.1) rotate(-90)">10<tspan dy="-2.4" font-size="4.8">1</tspan></text><text transform="translate(283.3 244.3) rotate(-90)">10<tspan dy="-2.4" font-size="4.8">2</tspan></text><text transform="translate(283.3 231.6) rotate(-90)">10<tspan dy="-2.4" font-size="4.8">3</tspan></text><text transform="translate(283.3 218.2) rotate(-90)">10<tspan dy="-2.4" font-size="4.8">4</tspan></text></g></g>
<g fill="none" stroke="#0c0c0c" stroke-width="1" stroke-linecap="square"><path d="M368.5 213.5H422.5V268.5H368.5ZM388.5 213.5V268.5M368.5 243.5H422.5" stroke="#1c1c1c" stroke-linecap="butt"/>
<path id="d5" d="M395.5 215.5h0m7 0h0M392.5 216.5h6m3 0h1M388.5 217.5h3m2 0h0m2 0h2m2 0h0m2 0h2m5 0h2m4 0h0M387.5 218.5h5m2 0h2m2 0h1m2 0h1m2 0h1m3 0h0m2 0h0m3 0h0m2 0h0M387.5 219.5h0m2 0h1m2 0h3m2 0h0m2 0h0m3 0h8m2 0h0m2 0h2M386.5 220.5h5m2 0h2m3 0h7m2 0h1m2 0h3m2 0h0M381.5 221.5h1m4 0h3m2 0h4m2 0h8m2 0h4m3 0h1M381.5 222.5h4m2 0h3m2 0h7m2 0h5m2 0h0m2 0h1m3 0h0m3 0h1M383.5 223.5h26m2 0h3m3 0h0M380.5 224.5h0m2 0h4m2 0h13m2 0h7m3 0h1m2 0h1M379.5 225.5h0m2 0h0m2 0h23m2 0h2m4 0h0m2 0h0M379.5 226.5h3m3 0h2m2 0h21m2 0h3M380.5 227.5h1m3 0h31M383.5 228.5h4m2 0h21m2 0h0M382.5 229.5h1m2 0h0m4 0h24M382.5 230.5h0m2 0h2m2 0h24m6 0h0M381.5 231.5h1m2 0h6m2 0h20m6 0h0M380.5 232.5h1m2 0h1m3 0h2m2 0h21m7 0h0M381.5 233.5h2m2 0h25m3 0h0m3 0h0M380.5 234.5h32m2 0h2M380.5 235.5h1m2 0h5m2 0h12m2 0h7m2 0h3m4 0h0M381.5 236.5h1m2 0h0m2 0h0m2 0h1m2 0h21m3 0h0M381.5 237.5h0m2 0h1m3 0h24M377.5 238.5h0m5 0h1m5 0h23m2 0h0M382.5 239.5h30M385.5 240.5h7m2 0h0m2 0h10m2 0h3M383.5 241.5h1m2 0h0m2 0h22m2 0h0M382.5 242.5h0m2 0h2m2 0h1m2 0h20m2 0h0M380.5 243.5h3m2 0h1m2 0h4m2 0h9m2 0h2m3 0h0m2 0h0m2 0h0M374.5 244.5h1m6 0h0m2 0h1m2 0h4m2 0h2m2 0h6m2 0h3m2 0h2m3 0h1M374.5 245.5h1m8 0h1m2 0h1m2 0h5m2 0h2m2 0h8m2 0h0m2 0h1m2 0h0M375.5 246.5h1m8 0h3m2 0h11m2 0h5m2 0h0m4 0h0m2 0h0M384.5 247.5h14m2 0h10m3 0h2M387.5 248.5h4m3 0h11m2 0h0m3 0h1m3 0h0M386.5 249.5h4m2 0h1m2 0h11m6 0h0M383.5 250.5h0m4 0h0m3 0h0m2 0h13m2 0h3m2 0h1M373.5 251.5h0m16 0h2m2 0h0m2 0h0m2 0h5m2 0h0m3 0h4M371.5 252.5h1m20 0h0m2 0h1m2 0h1m3 0h0m8 0h1M371.5 253.5h0m20 0h1m4 0h2m2 0h1m2 0h1M390.5 254.5h2m7 0h0m2 0h3M382.5 255.5h0m9 0h0m2 0h0m4 0h0m2 0h3m2 0h0M390.5 256.5h0m2 0h0m5 0h2m3 0h1M391.5 257.5h0m5 0h1m5 0h1M397.5 258.5h0m2 0h0m5 0h0M379.5 259.5h0m16 0h1m2 0h1m3 0h2M378.5 260.5h0m18 0h0m3 0h0m4 0h1M394.5 261.5h0m2 0h0m2 0h1m4 0h0M392.5 262.5h1m2 0h2m2 0h0M392.5 263.5h0m4 0h1M405.5 264.5h0M404.5 265.5h1M376.5 266.5h0"/>
<use href="#d5" stroke-width="2" opacity=".32"/>
<path id="s5" d="M388.5 214.5h0m4 0h0m3 0h0m3 0h0m2 0h0m3 0h0m4 0h0m10 0h0M380.5 215.5h0m24 0h0m7 0h0m2 0h0m2 0h0M374.5 216.5h1m36 0h0m7 0h1M370.5 217.5h0m12 0h0m4 0h0m19 0h0m2 0h0m6 0h0m2 0h0M371.5 218.5h0m7 0h0M374.5 219.5h0m8 0h1m36 0h0M380.5 220.5h0m5 0h0M370.5 221.5h0m47 0h0M372.5 222.5h1m7 0h0m39 0h0M374.5 223.5h0m47 0h0M375.5 224.5h0m4 0h0M369.5 225.5h2m3 0h0m44 0h0m2 0h0M418.5 226.5h0m2 0h0M371.5 228.5h0m2 0h0m7 0h0m35 0h0M371.5 229.5h0m2 0h0m4 0h0m40 0h1m3 0h0M380.5 230.5h0m34 0h0M375.5 231.5h0m2 0h1M373.5 232.5h1m42 0h0m2 0h0m2 0h0M370.5 233.5h0m51 0h0M371.5 234.5h0m2 0h0m3 0h0m3 0h0m40 0h0M376.5 235.5h0m43 0h0m2 0h0M370.5 236.5h0m4 0h0m2 0h0m3 0h0M372.5 237.5h0m6 0h0m8 0h0m27 0h0m7 0h0M376.5 238.5h0m40 0h0M374.5 239.5h0m4 0h0m35 0h0m2 0h0m4 0h0M379.5 240.5h0m2 0h0m37 0h0M370.5 241.5h0m4 0h0m41 0h0M369.5 242.5h0m3 0h0M371.5 243.5h0m4 0h0m4 0h0M371.5 245.5h0M369.5 246.5h0m8 0h0m4 0h0m39 0h0M369.5 247.5h0m4 0h0m7 0h1m2 0h0m34 0h0M373.5 248.5h0m3 0h1m41 0h0m2 0h0M371.5 249.5h0m12 0h1M372.5 250.5h0m7 0h0m37 0h0M370.5 251.5h0m13 0h0m2 0h0m28 0h0m4 0h0M374.5 252.5h0m3 0h1m8 0h0m3 0h0m16 0h0m16 0h0M380.5 253.5h0m7 0h0m22 0h0m4 0h2M372.5 254.5h0m2 0h0m3 0h0m6 0h0m23 0h0m13 0h0M374.5 255.5h0m11 0h0m2 0h1m6 0h0m2 0h0m10 0h0m4 0h0m4 0h0m4 0h0M376.5 256.5h1m3 0h0m2 0h1m23 0h0m4 0h0M370.5 257.5h0m7 0h0m12 0h0m3 0h0m3 0h0m23 0h0M373.5 258.5h0m7 0h0m3 0h0m17 0h0m5 0h0M373.5 259.5h0m5 0h0m11 0h0m18 0h0m5 0h0M394.5 260.5h0m7 0h0m4 0h0m2 0h0m4 0h0m2 0h0M370.5 261.5h0m2 0h0m2 0h0m5 0h1m2 0h1m24 0h0m8 0h0m6 0h0M372.5 262.5h0m4 0h0m10 0h0m5 0h0m10 0h0m3 0h0m10 0h0M372.5 263.5h0m3 0h0m12 0h0m12 0h0m6 0h0M398.5 264.5h0m13 0h0M375.5 265.5h0m2 0h0m3 0h0m9 0h0m7 0h0m6 0h1m4 0h0m6 0h0M373.5 266.5h0m10 0h0m6 0h0m9 0h0m8 0h0M371.5 267.5h0m2 0h0m4 0h0m5 0h0m10 0h0m3 0h0m13 0h0m9 0h0" stroke="#555"/>
<use href="#s5" stroke-width="2" opacity=".2"/>
<path d="M368.5 268.5v2M372.6 268.5v1.2M374.9 268.5v1.2M377.9 268.5v1.2M379.9 268.5v1.2M382 268.5v2M386.1 268.5v1.2M388.4 268.5v1.2M391.4 268.5v1.2M393.4 268.5v1.2M395.5 268.5v2M399.6 268.5v1.2M401.9 268.5v1.2M404.9 268.5v1.2M406.9 268.5v1.2M409 268.5v2M413.1 268.5v1.2M415.4 268.5v1.2M418.4 268.5v1.2M420.4 268.5v1.2M422.5 268.5v2M368.5 268.5h-2M368.5 264.4h-1.2M368.5 261.9h-1.2M368.5 258.9h-1.2M368.5 256.9h-1.2M368.5 254.8h-2M368.5 250.6h-1.2M368.5 248.2h-1.2M368.5 245.1h-1.2M368.5 243.1h-1.2M368.5 241h-2M368.5 236.9h-1.2M368.5 234.4h-1.2M368.5 231.4h-1.2M368.5 229.4h-1.2M368.5 227.2h-2M368.5 223.1h-1.2M368.5 220.7h-1.2M368.5 217.6h-1.2M368.5 215.6h-1.2M368.5 213.5h-2" stroke="#222" stroke-width=".7" stroke-linecap="butt"/>
<g font-size="6.6" fill="#222" style="stroke:none" letter-spacing="-.4"><text x="366.8" y="277">10<tspan dy="-2.4" font-size="4.8">0</tspan></text><text x="381.7" y="277">10<tspan dy="-2.4" font-size="4.8">1</tspan></text><text x="394.9" y="277">10<tspan dy="-2.4" font-size="4.8">2</tspan></text><text x="407.5" y="277">10<tspan dy="-2.4" font-size="4.8">3</tspan></text><text x="417.6" y="277">10<tspan dy="-2.4" font-size="4.8">4</tspan></text><text transform="translate(366.3 269.7) rotate(-90)">10<tspan dy="-2.4" font-size="4.8">0</tspan></text><text transform="translate(366.3 257.1) rotate(-90)">10<tspan dy="-2.4" font-size="4.8">1</tspan></text><text transform="translate(366.3 244.3) rotate(-90)">10<tspan dy="-2.4" font-size="4.8">2</tspan></text><text transform="translate(366.3 231.6) rotate(-90)">10<tspan dy="-2.4" font-size="4.8">3</tspan></text><text transform="translate(366.3 218.2) rotate(-90)">10<tspan dy="-2.4" font-size="4.8">4</tspan></text></g></g>
<g fill="none" stroke="#0c0c0c" stroke-width="1" stroke-linecap="square"><path d="M37.5 297.5H91.5V351.5H37.5ZM58.5 297.5V351.5M37.5 327.5H91.5" stroke="#1c1c1c" stroke-linecap="butt"/>
<path id="d6" d="M51.5 301.5h0M50.5 302.5h2M45.5 303.5h1m3 0h0m3 0h0m2 0h1M46.5 304.5h2m2 0h0m3 0h3M41.5 305.5h0m7 0h8M42.5 306.5h0m6 0h0m4 0h1m2 0h0m2 0h0M43.5 307.5h0m2 0h7m2 0h1M39.5 308.5h0m3 0h0m2 0h12m6 0h0M43.5 309.5h0m2 0h6m2 0h4m6 0h0M39.5 310.5h19m2 0h0M39.5 311.5h17m2 0h3m9 0h0M38.5 312.5h0m3 0h13m3 0h3m11 0h0M38.5 313.5h22M38.5 314.5h21M38.5 315.5h0m3 0h1m3 0h13m2 0h1M39.5 316.5h21m4 0h0M38.5 317.5h22m2 0h0m8 0h0m3 0h0M38.5 318.5h25M38.5 319.5h24m2 0h0m2 0h1M39.5 320.5h26m2 0h1M39.5 321.5h18m2 0h0m2 0h0m2 0h0m2 0h2M39.5 322.5h20m3 0h0m2 0h1M38.5 323.5h19m2 0h5M39.5 324.5h20m3 0h0M40.5 325.5h20M39.5 326.5h18m2 0h1M41.5 327.5h16m3 0h0m7 0h0M42.5 328.5h10m2 0h3m2 0h1M40.5 329.5h0m2 0h12m2 0h1m2 0h0M39.5 330.5h0m2 0h1m2 0h9m2 0h2M39.5 331.5h1m4 0h0m4 0h6m2 0h1M42.5 332.5h1m2 0h5m2 0h1m2 0h1M41.5 333.5h1m2 0h1m2 0h2m2 0h4M40.5 334.5h2m2 0h3m2 0h3m2 0h0M41.5 335.5h0m4 0h2m2 0h0m2 0h1m2 0h1M45.5 336.5h2m2 0h1m3 0h0M42.5 337.5h0m2 0h0m3 0h0m4 0h2M40.5 338.5h3m8 0h1m2 0h0M39.5 339.5h0m2 0h0m2 0h1m4 0h2m2 0h1M40.5 340.5h0m2 0h0m6 0h3m5 0h0M41.5 341.5h2m3 0h2m3 0h1m3 0h1M43.5 342.5h0m3 0h5m3 0h2M44.5 343.5h0m2 0h1m2 0h0m2 0h0m4 0h0M44.5 344.5h1m3 0h0m3 0h0M45.5 345.5h0m7 0h0"/>
<use href="#d6" stroke-width="2" opacity=".32"/>
<path id="s6" d="M47.5 298.5h1m2 0h0m4 0h0m34 0h0M42.5 299.5h0M41.5 300.5h0m3 0h0m2 0h0m2 0h0m11 0h0m3 0h0m20 0h0M46.5 301.5h0M44.5 302.5h0m5 0h0m14 0h0m25 0h1M44.5 303.5h0m17 0h0m3 0h0m7 0h0m2 0h0m8 0h0M42.5 304.5h0m40 0h0M39.5 305.5h1m5 0h0m16 0h1m9 0h0m3 0h0M43.5 306.5h0m15 0h0M38.5 307.5h1m19 0h0m3 0h0m5 0h0M41.5 308.5h0m20 0h0m11 0h0m3 0h0m2 0h0m2 0h0m6 0h0M38.5 309.5h0m21 0h0m6 0h0m20 0h0M62.5 310.5h0m2 0h0m5 0h0m2 0h1m3 0h0M66.5 311.5h1m6 0h0M63.5 312.5h0m2 0h0m3 0h0m2 0h0m5 0h0M61.5 313.5h0m2 0h0m9 0h0m16 0h0M68.5 314.5h1m6 0h0m14 0h0M62.5 315.5h1m2 0h0m2 0h0m10 0h0M65.5 316.5h0m2 0h0m2 0h0m2 0h0m2 0h0m3 0h0M68.5 317.5h0m7 0h0m10 0h0M66.5 318.5h0m5 0h1m2 0h0M76.5 320.5h0m2 0h0M70.5 321.5h0m3 0h0m2 0h0m11 0h0M74.5 322.5h0M67.5 323.5h0m4 0h1m5 0h0m9 0h0M66.5 324.5h0m14 0h0m4 0h0M38.5 325.5h0m24 0h0m3 0h0m9 0h0m10 0h0M62.5 326.5h0m2 0h0m3 0h0m2 0h0m4 0h0m3 0h0m4 0h0M38.5 327.5h0m25 0h0m9 0h0m4 0h0m13 0h0M39.5 328.5h0m27 0h0m2 0h1m2 0h0m6 0h0m2 0h0m7 0h0M62.5 329.5h1m3 0h0m5 0h0m11 0h0m6 0h0M38.5 330.5h0m21 0h0m2 0h0m3 0h0m6 0h0M63.5 331.5h0m3 0h0m2 0h1M59.5 332.5h0m3 0h0m10 0h0m9 0h0M38.5 333.5h1m19 0h0m2 0h0m3 0h0m5 0h0m6 0h0m2 0h0m11 0h0M58.5 334.5h0m11 0h0M56.5 335.5h0m2 0h0m2 0h0m11 0h0m18 0h0M56.5 336.5h0m4 0h0m11 0h0m11 0h0M38.5 337.5h0m11 0h0m30 0h0M45.5 338.5h0m2 0h0m11 0h0m3 0h0m11 0h0m2 0h0M38.5 339.5h0m17 0h0m5 0h0m5 0h0m6 0h1m13 0h0M58.5 340.5h0m5 0h0M38.5 341.5h1m5 0h0m16 0h0m30 0h0M88.5 342.5h0M42.5 343.5h0M49.5 344.5h0m10 0h0m13 0h0m10 0h0m2 0h0M43.5 345.5h0m4 0h0m4 0h0m2 0h0m6 0h0m10 0h0M40.5 346.5h0m2 0h0m4 0h0m3 0h0m7 0h0m3 0h0m2 0h0M38.5 347.5h0m13 0h0m5 0h0m4 0h0m8 0h0m11 0h0m2 0h0M38.5 348.5h0m6 0h0m4 0h0m3 0h0m3 0h0m2 0h0m21 0h0M40.5 349.5h0m4 0h0m6 0h0m8 0h0m7 0h0m20 0h0M42.5 350.5h0m4 0h0m3 0h0m5 0h0m5 0h0m29 0h0" stroke="#555"/>
<use href="#s6" stroke-width="2" opacity=".2"/>
<path d="M37.5 351.5v2M41.6 351.5v1.2M43.9 351.5v1.2M46.9 351.5v1.2M48.9 351.5v1.2M51 351.5v2M55.1 351.5v1.2M57.4 351.5v1.2M60.4 351.5v1.2M62.4 351.5v1.2M64.5 351.5v2M68.6 351.5v1.2M70.9 351.5v1.2M73.9 351.5v1.2M75.9 351.5v1.2M78 351.5v2M82.1 351.5v1.2M84.4 351.5v1.2M87.4 351.5v1.2M89.4 351.5v1.2M91.5 351.5v2M37.5 351.5h-2M37.5 347.4h-1.2M37.5 345.1h-1.2M37.5 342.1h-1.2M37.5 340.1h-1.2M37.5 338h-2M37.5 333.9h-1.2M37.5 331.6h-1.2M37.5 328.6h-1.2M37.5 326.6h-1.2M37.5 324.5h-2M37.5 320.4h-1.2M37.5 318.1h-1.2M37.5 315.1h-1.2M37.5 313.1h-1.2M37.5 311h-2M37.5 306.9h-1.2M37.5 304.6h-1.2M37.5 301.6h-1.2M37.5 299.6h-1.2M37.5 297.5h-2" stroke="#222" stroke-width=".7" stroke-linecap="butt"/>
<g font-size="6.6" fill="#222" style="stroke:none" letter-spacing="-.4"><text x="35.8" y="360">10<tspan dy="-2.4" font-size="4.8">0</tspan></text><text x="50.7" y="360">10<tspan dy="-2.4" font-size="4.8">1</tspan></text><text x="63.9" y="360">10<tspan dy="-2.4" font-size="4.8">2</tspan></text><text x="76.5" y="360">10<tspan dy="-2.4" font-size="4.8">3</tspan></text><text x="86.6" y="360">10<tspan dy="-2.4" font-size="4.8">4</tspan></text><text transform="translate(35.3 352.7) rotate(-90)">10<tspan dy="-2.4" font-size="4.8">0</tspan></text><text transform="translate(35.3 340.3) rotate(-90)">10<tspan dy="-2.4" font-size="4.8">1</tspan></text><text transform="translate(35.3 327.8) rotate(-90)">10<tspan dy="-2.4" font-size="4.8">2</tspan></text><text transform="translate(35.3 315.3) rotate(-90)">10<tspan dy="-2.4" font-size="4.8">3</tspan></text><text transform="translate(35.3 302.2) rotate(-90)">10<tspan dy="-2.4" font-size="4.8">4</tspan></text></g></g>
<g fill="none" stroke="#0c0c0c" stroke-width="1" stroke-linecap="square"><path d="M120.5 297.5H175.5V352.5H120.5ZM141.5 297.5V352.5M120.5 327.5H175.5" stroke="#1c1c1c" stroke-linecap="butt"/>
<path id="d7" d="M133.5 300.5h0M123.5 302.5h0m3 0h0M122.5 303.5h1m2 0h0m2 0h0m6 0h0m3 0h1M122.5 304.5h1m2 0h3m8 0h1M121.5 305.5h0m2 0h5m2 0h0m7 0h0M121.5 306.5h1m2 0h7m2 0h1M121.5 307.5h1m2 0h11M122.5 308.5h14m3 0h1m2 0h0m2 0h0M121.5 309.5h13m2 0h0m4 0h1m2 0h1M121.5 310.5h17m3 0h0m3 0h1M121.5 311.5h18m3 0h2M121.5 312.5h20m3 0h0M121.5 313.5h19m2 0h1m2 0h1M121.5 314.5h23m2 0h1M121.5 315.5h17m2 0h2m5 0h1M121.5 316.5h19M121.5 317.5h8m2 0h10M121.5 318.5h1m2 0h14m2 0h0M121.5 319.5h18m2 0h1M121.5 320.5h0m2 0h14m2 0h2M121.5 321.5h16m2 0h2M121.5 322.5h21m2 0h0M121.5 323.5h12m2 0h5m3 0h1M121.5 324.5h17m5 0h0m2 0h0M122.5 325.5h17m7 0h1M121.5 326.5h11m2 0h5m4 0h0M121.5 327.5h13m2 0h4m2 0h2M121.5 328.5h15m3 0h2m2 0h0M122.5 329.5h13m2 0h2m2 0h1M121.5 330.5h2m2 0h4m2 0h4m2 0h0m2 0h0M121.5 331.5h1m2 0h3m2 0h1m2 0h1m2 0h0M122.5 332.5h1m3 0h2m2 0h0M122.5 333.5h1m2 0h3m2 0h1M122.5 334.5h1m2 0h3m3 0h1M121.5 335.5h3m3 0h1m3 0h2M121.5 336.5h1m3 0h0m2 0h1m3 0h1M124.5 337.5h2M125.5 338.5h1M123.5 339.5h2m3 0h1M124.5 340.5h0m5 0h1M121.5 341.5h1M121.5 342.5h1M126.5 345.5h2M126.5 346.5h2M127.5 347.5h0"/>
<use href="#d7" stroke-width="2" opacity=".32"/>
<path id="s7" d="M127.5 298.5h0m26 0h0m5 0h0M122.5 299.5h0m8 0h0m4 0h0M125.5 300.5h0m2 0h0m3 0h0M122.5 301.5h0m5 0h0m5 0h1m5 0h0m6 0h2M130.5 302.5h0m10 0h0M132.5 303.5h0m9 0h0m18 0h0M130.5 304.5h0m2 0h0m2 0h0m7 0h0m8 0h0M138.5 305.5h0m2 0h0m7 0h0m20 0h0M159.5 306.5h0M143.5 307.5h0m4 0h0m4 0h0M138.5 308.5h0m18 0h0m9 0h0M156.5 309.5h0M149.5 310.5h0m4 0h0m11 0h0M147.5 311.5h0m5 0h0m14 0h0M147.5 312.5h0m9 0h0m3 0h0M151.5 313.5h0m19 0h0M151.5 314.5h0m12 0h0m9 0h0M144.5 315.5h0m12 0h0m6 0h0m3 0h0m2 0h0M146.5 316.5h0m2 0h0m13 0h0M145.5 317.5h0m7 0h0M143.5 318.5h0m2 0h0m2 0h1m3 0h0m6 0h0m11 0h0M151.5 319.5h0m6 0h0m2 0h0M144.5 320.5h0m8 0h0m16 0h0m5 0h0M144.5 321.5h0m2 0h0M146.5 322.5h1m5 0h0m17 0h0M158.5 323.5h0M148.5 324.5h0M143.5 325.5h0m2 0h0m27 0h0M148.5 326.5h0m2 0h0m7 0h0m11 0h0M147.5 327.5h0M168.5 328.5h0M145.5 329.5h0M141.5 330.5h0m7 0h0m4 0h0m3 0h0M138.5 331.5h0M133.5 332.5h0m2 0h0m7 0h0m3 0h0m19 0h0M136.5 333.5h0M139.5 334.5h0m5 0h0M137.5 335.5h0m35 0h0M129.5 336.5h0M139.5 337.5h0M122.5 338.5h0m7 0h0m7 0h1M121.5 339.5h0m22 0h0M134.5 340.5h0M125.5 341.5h1m3 0h0m11 0h0M127.5 342.5h0m14 0h0M121.5 343.5h0m2 0h0m3 0h0m6 0h0M129.5 344.5h0m3 0h0m13 0h0M131.5 345.5h0M171.5 346.5h0M124.5 347.5h0M126.5 348.5h0m44 0h0M124.5 349.5h0m46 0h0M127.5 350.5h0M125.5 351.5h0" stroke="#555"/>
<use href="#s7" stroke-width="2" opacity=".2"/>
<path d="M120.5 352.5v2M124.6 352.5v1.2M127.1 352.5v1.2M130.1 352.5v1.2M132.1 352.5v1.2M134.2 352.5v2M138.4 352.5v1.2M140.8 352.5v1.2M143.9 352.5v1.2M145.9 352.5v1.2M148 352.5v2M152.1 352.5v1.2M154.6 352.5v1.2M157.6 352.5v1.2M159.6 352.5v1.2M161.8 352.5v2M165.9 352.5v1.2M168.3 352.5v1.2M171.4 352.5v1.2M173.4 352.5v1.2M175.5 352.5v2M120.5 352.5h-2M120.5 348.4h-1.2M120.5 345.9h-1.2M120.5 342.9h-1.2M120.5 340.9h-1.2M120.5 338.8h-2M120.5 334.6h-1.2M120.5 332.2h-1.2M120.5 329.1h-1.2M120.5 327.1h-1.2M120.5 325h-2M120.5 320.9h-1.2M120.5 318.4h-1.2M120.5 315.4h-1.2M120.5 313.4h-1.2M120.5 311.2h-2M120.5 307.1h-1.2M120.5 304.7h-1.2M120.5 301.6h-1.2M120.5 299.6h-1.2M120.5 297.5h-2" stroke="#222" stroke-width=".7" stroke-linecap="butt"/>
<g font-size="6.6" fill="#222" style="stroke:none" letter-spacing="-.4"><text x="118.8" y="361">10<tspan dy="-2.4" font-size="4.8">0</tspan></text><text x="133.9" y="361">10<tspan dy="-2.4" font-size="4.8">1</tspan></text><text x="147.4" y="361">10<tspan dy="-2.4" font-size="4.8">2</tspan></text><text x="160.2" y="361">10<tspan dy="-2.4" font-size="4.8">3</tspan></text><text x="170.6" y="361">10<tspan dy="-2.4" font-size="4.8">4</tspan></text><text transform="translate(118.3 353.7) rotate(-90)">10<tspan dy="-2.4" font-size="4.8">0</tspan></text><text transform="translate(118.3 341.1) rotate(-90)">10<tspan dy="-2.4" font-size="4.8">1</tspan></text><text transform="translate(118.3 328.3) rotate(-90)">10<tspan dy="-2.4" font-size="4.8">2</tspan></text><text transform="translate(118.3 315.6) rotate(-90)">10<tspan dy="-2.4" font-size="4.8">3</tspan></text><text transform="translate(118.3 302.2) rotate(-90)">10<tspan dy="-2.4" font-size="4.8">4</tspan></text></g></g>
<g fill="none" stroke="#0c0c0c" stroke-width="1" stroke-linecap="square"><path d="M204.5 297.5H258.5V351.5H204.5ZM224.5 297.5V351.5M204.5 327.5H258.5" stroke="#1c1c1c" stroke-linecap="butt"/>
<path id="d8" d="M225.5 301.5h0m19 0h0M217.5 302.5h0m8 0h0m3 0h1m15 0h0M221.5 305.5h0m5 0h0m2 0h1m4 0h2M220.5 306.5h11m2 0h0m2 0h1M211.5 307.5h0m10 0h10m2 0h1M210.5 308.5h2m5 0h16m2 0h1M210.5 309.5h1m2 0h0m5 0h3m2 0h12m2 0h0m3 0h0M219.5 310.5h4m2 0h10m6 0h0M216.5 311.5h20m6 0h0M215.5 312.5h0m2 0h19M213.5 313.5h1m3 0h19M214.5 314.5h0m4 0h18M213.5 315.5h0m3 0h0m2 0h20M214.5 316.5h1m2 0h0m2 0h19M215.5 317.5h2m2 0h17M218.5 318.5h23M215.5 319.5h1m2 0h19m2 0h0m2 0h0M215.5 320.5h1m2 0h11m3 0h4m3 0h1M216.5 321.5h1m3 0h0m2 0h13m4 0h0M219.5 322.5h17M215.5 323.5h2m2 0h16M216.5 324.5h1m4 0h13M217.5 325.5h0m3 0h4m2 0h8M221.5 326.5h12M222.5 327.5h11M222.5 328.5h10M216.5 329.5h0m6 0h9M218.5 330.5h0m6 0h8M223.5 331.5h8M224.5 332.5h3m2 0h2M224.5 333.5h7M225.5 334.5h6M225.5 335.5h4m2 0h0M225.5 336.5h0m2 0h3M226.5 337.5h4M225.5 338.5h4M227.5 339.5h2M227.5 340.5h2"/>
<use href="#d8" stroke-width="2" opacity=".32"/>
<path id="s8" d="M229.5 298.5h0M213.5 299.5h0m4 0h0m39 0h0M223.5 300.5h1m2 0h0m8 0h1M215.5 301.5h1m2 0h0m10 0h0m15 0h0m2 0h0m3 0h1M207.5 302.5h0m23 0h1m26 0h0M216.5 303.5h0m8 0h0m2 0h0m2 0h0M206.5 304.5h0m9 0h0m3 0h0m3 0h0m9 0h1m2 0h0m9 0h0m11 0h0M242.5 305.5h0m5 0h0M206.5 306.5h0m9 0h0m22 0h1m5 0h1M207.5 307.5h0m6 0h0m4 0h0m30 0h1m8 0h0M206.5 308.5h0m9 0h0m22 0h0m2 0h0m18 0h0M214.5 309.5h0m2 0h0M205.5 310.5h0m2 0h0m5 0h0m25 0h0m3 0h0m14 0h0M207.5 311.5h0m2 0h1m4 0h0m29 0h0m2 0h0m2 0h0M238.5 312.5h1m2 0h0m2 0h0m2 0h0M212.5 313.5h0M210.5 314.5h0m6 0h0m22 0h0m2 0h0m2 0h0m3 0h0m2 0h0m8 0h0M207.5 315.5h1m4 0h0m28 0h0m7 0h1m9 0h0M241.5 316.5h0m3 0h1m8 0h0M206.5 317.5h0m4 0h0m37 0h0m5 0h0M205.5 318.5h0m37 0h0m10 0h0M208.5 319.5h0m5 0h0m44 0h0M208.5 320.5h0m4 0h0M214.5 321.5h0m27 0h0M237.5 322.5h0m2 0h0m10 0h0m5 0h0M212.5 323.5h1m24 0h0m7 0h0m4 0h1m7 0h0M206.5 324.5h0m5 0h0m3 0h0m43 0h0M210.5 325.5h0m27 0h0m2 0h0M206.5 326.5h0m4 0h0m2 0h0m3 0h0m3 0h0m18 0h0m8 0h0m4 0h0M207.5 327.5h0m11 0h0M208.5 328.5h0m5 0h0m2 0h0m5 0h0m15 0h0m5 0h1M205.5 329.5h0m12 0h0m3 0h0m13 0h0m3 0h1m4 0h0M209.5 330.5h0m4 0h0m2 0h0M208.5 331.5h0m2 0h0m5 0h0m2 0h0m2 0h0m14 0h0m2 0h0m6 0h0M209.5 332.5h0m12 0h0M213.5 333.5h0m3 0h0M205.5 334.5h0m4 0h1m3 0h1m8 0h0m16 0h0M217.5 335.5h0m5 0h0m14 0h0m2 0h0m14 0h0M233.5 336.5h0m10 0h0m9 0h0M210.5 337.5h3m9 0h1m8 0h0m7 0h0M205.5 338.5h0M209.5 339.5h0m16 0h0M207.5 340.5h0m5 0h0m3 0h0m15 0h0m16 0h0m5 0h0M217.5 341.5h0m6 0h0m2 0h0M217.5 342.5h0m8 0h0m3 0h0m2 0h0m7 0h0M205.5 343.5h0m5 0h0m8 0h0m3 0h0m2 0h0m3 0h0m3 0h0M209.5 344.5h0m2 0h0m14 0h0M206.5 345.5h0m8 0h0m6 0h0m2 0h0m4 0h0M211.5 346.5h0m6 0h0m20 0h0M205.5 347.5h0m3 0h1m11 0h1m7 0h0m11 0h0M230.5 348.5h0M209.5 349.5h0M214.5 350.5h0m2 0h0m5 0h0m35 0h0" stroke="#555"/>
<use href="#s8" stroke-width="2" opacity=".2"/>
<path d="M204.5 351.5v2M208.6 351.5v1.2M210.9 351.5v1.2M213.9 351.5v1.2M215.9 351.5v1.2M218 351.5v2M222.1 351.5v1.2M224.4 351.5v1.2M227.4 351.5v1.2M229.4 351.5v1.2M231.5 351.5v2M235.6 351.5v1.2M237.9 351.5v1.2M240.9 351.5v1.2M242.9 351.5v1.2M245 351.5v2M249.1 351.5v1.2M251.4 351.5v1.2M254.4 351.5v1.2M256.4 351.5v1.2M258.5 351.5v2M204.5 351.5h-2M204.5 347.4h-1.2M204.5 345.1h-1.2M204.5 342.1h-1.2M204.5 340.1h-1.2M204.5 338h-2M204.5 333.9h-1.2M204.5 331.6h-1.2M204.5 328.6h-1.2M204.5 326.6h-1.2M204.5 324.5h-2M204.5 320.4h-1.2M204.5 318.1h-1.2M204.5 315.1h-1.2M204.5 313.1h-1.2M204.5 311h-2M204.5 306.9h-1.2M204.5 304.6h-1.2M204.5 301.6h-1.2M204.5 299.6h-1.2M204.5 297.5h-2" stroke="#222" stroke-width=".7" stroke-linecap="butt"/>
<g font-size="6.6" fill="#222" style="stroke:none" letter-spacing="-.4"><text x="202.8" y="360">10<tspan dy="-2.4" font-size="4.8">0</tspan></text><text x="217.7" y="360">10<tspan dy="-2.4" font-size="4.8">1</tspan></text><text x="230.9" y="360">10<tspan dy="-2.4" font-size="4.8">2</tspan></text><text x="243.5" y="360">10<tspan dy="-2.4" font-size="4.8">3</tspan></text><text x="253.6" y="360">10<tspan dy="-2.4" font-size="4.8">4</tspan></text><text transform="translate(202.3 352.7) rotate(-90)">10<tspan dy="-2.4" font-size="4.8">0</tspan></text><text transform="translate(202.3 340.3) rotate(-90)">10<tspan dy="-2.4" font-size="4.8">1</tspan></text><text transform="translate(202.3 327.8) rotate(-90)">10<tspan dy="-2.4" font-size="4.8">2</tspan></text><text transform="translate(202.3 315.3) rotate(-90)">10<tspan dy="-2.4" font-size="4.8">3</tspan></text><text transform="translate(202.3 302.2) rotate(-90)">10<tspan dy="-2.4" font-size="4.8">4</tspan></text></g></g>
<g fill="none" stroke="#0c0c0c" stroke-width="1" stroke-linecap="square"><path d="M287.5 297.5H341.5V352.5H287.5ZM308.5 297.5V352.5M287.5 327.5H341.5" stroke="#1c1c1c" stroke-linecap="butt"/>
<path id="d9" d="M293.5 302.5h0M292.5 304.5h0m4 0h0m3 0h1M293.5 305.5h0m2 0h2m2 0h1m9 0h0M291.5 306.5h0m2 0h2m3 0h1m7 0h0m2 0h1M290.5 307.5h0m2 0h0m2 0h1m4 0h1m5 0h0m2 0h1m3 0h1m2 0h2m2 0h0M292.5 308.5h0m2 0h2m3 0h1m8 0h1m3 0h0m3 0h0m2 0h0M291.5 309.5h1m2 0h4m3 0h0m3 0h0m5 0h1m2 0h0m4 0h0m2 0h0M288.5 310.5h10m2 0h3m2 0h0m2 0h1m2 0h1m2 0h5m4 0h0M288.5 311.5h16m2 0h2m2 0h4m4 0h2m2 0h0M288.5 312.5h20m2 0h2m2 0h4m2 0h1M288.5 313.5h8m2 0h6m2 0h9m2 0h1m2 0h2M288.5 314.5h13m2 0h0m2 0h15m2 0h0M288.5 315.5h34m2 0h1m4 0h0M288.5 316.5h10m2 0h8m2 0h12m3 0h0m3 0h1M288.5 317.5h29m2 0h3m2 0h0m3 0h1M290.5 318.5h19m2 0h11m2 0h1m2 0h1M292.5 319.5h31m3 0h0M290.5 320.5h0m2 0h0m2 0h5m2 0h21m2 0h1M291.5 321.5h0m3 0h1m2 0h26m2 0h2M292.5 322.5h18m2 0h14M291.5 323.5h0m2 0h1m2 0h3m2 0h25M292.5 324.5h3m2 0h30M293.5 325.5h0m2 0h29m2 0h0M290.5 326.5h2m5 0h2m2 0h22M291.5 327.5h0m7 0h0m2 0h1m2 0h19m6 0h0M297.5 328.5h0m2 0h1m2 0h1m2 0h18m5 0h0M300.5 329.5h1m3 0h1m2 0h16M302.5 330.5h2m2 0h2m2 0h5m3 0h1m2 0h0M302.5 331.5h0m2 0h2m3 0h2m2 0h1m2 0h0m2 0h0M297.5 332.5h0m11 0h0m2 0h0m3 0h3M296.5 333.5h1m10 0h0m2 0h1m2 0h1m2 0h0M296.5 334.5h0m12 0h1m3 0h0m4 0h0M308.5 335.5h0m2 0h1M307.5 336.5h2m2 0h0M306.5 337.5h2m2 0h2m3 0h0M307.5 338.5h0m2 0h0m5 0h1M310.5 339.5h0m4 0h0M309.5 340.5h0m2 0h1m2 0h1M310.5 341.5h0m2 0h0M310.5 342.5h1M297.5 344.5h0m3 0h1M299.5 345.5h2M300.5 346.5h0M311.5 348.5h0"/>
<use href="#d9" stroke-width="2" opacity=".32"/>
<path id="s9" d="M296.5 298.5h0m3 0h1M292.5 299.5h1m9 0h0m2 0h0m19 0h0m14 0h0M317.5 300.5h0M297.5 301.5h0m7 0h0M290.5 302.5h0m4 0h0m3 0h0m22 0h0m18 0h0M292.5 303.5h0m2 0h0m2 0h0m6 0h0m14 0h0m2 0h1m9 0h0M307.5 304.5h0m3 0h0m11 0h0m4 0h0M289.5 305.5h0m2 0h0m10 0h0m16 0h0m5 0h0m12 0h0M289.5 306.5h0m14 0h0m2 0h0m6 0h0m2 0h0m6 0h0m18 0h0M297.5 307.5h0m5 0h0m20 0h1m12 0h1M288.5 308.5h1m15 0h0m15 0h0m13 0h0M306.5 309.5h0m15 0h0M323.5 310.5h0m4 0h0m2 0h0m5 0h0M336.5 311.5h1M325.5 312.5h0M323.5 313.5h0m5 0h0M325.5 314.5h0M330.5 315.5h0m6 0h0M333.5 316.5h0m2 0h0m4 0h0M331.5 317.5h0M333.5 318.5h0M289.5 319.5h0M338.5 320.5h0m2 0h0M289.5 321.5h0m41 0h0m3 0h0M328.5 322.5h0m5 0h0M290.5 323.5h0m38 0h0M289.5 324.5h0m41 0h3m2 0h0M327.5 326.5h0m2 0h0m5 0h0M289.5 327.5h0m5 0h0m2 0h0m40 0h0M293.5 328.5h0m32 0h0m2 0h0m2 0h0M288.5 329.5h0m6 0h0m2 0h0m2 0h0M288.5 330.5h0m3 0h0m32 0h0m4 0h0m5 0h0m2 0h0M291.5 331.5h0m7 0h0m27 0h0M290.5 332.5h0m10 0h1m18 0h0M293.5 333.5h1m5 0h0m5 0h0m2 0h0m11 0h0m5 0h1m8 0h0M288.5 334.5h0m14 0h0m4 0h0m15 0h0m5 0h0m7 0h0m3 0h0M294.5 335.5h0m2 0h0m17 0h0m3 0h0m2 0h0M298.5 336.5h0m18 0h0M293.5 337.5h0m4 0h0m3 0h0m13 0h0m10 0h0M288.5 338.5h0m6 0h0m5 0h0m2 0h0m3 0h0m17 0h0M296.5 339.5h1m5 0h0m2 0h0m8 0h0m4 0h0m15 0h0m4 0h0M289.5 340.5h0m12 0h0m6 0h0m21 0h0M293.5 341.5h0m8 0h0m3 0h1m3 0h0m6 0h0M292.5 342.5h0M291.5 343.5h0m3 0h0m2 0h0m2 0h0m4 0h2m2 0h0m3 0h0m2 0h0M288.5 344.5h0m18 0h0m28 0h0M288.5 345.5h1m7 0h0m7 0h1m4 0h0m2 0h0m3 0h0m3 0h1m3 0h0M318.5 346.5h0M290.5 347.5h0m4 0h0m8 0h0m2 0h0m4 0h0m2 0h1m2 0h0M289.5 348.5h0m6 0h0m5 0h0M297.5 349.5h0m9 0h0m5 0h0m22 0h0M304.5 350.5h0M288.5 351.5h0m6 0h1m10 0h0m2 0h0" stroke="#555"/>
<use href="#s9" stroke-width="2" opacity=".2"/>
<path d="M287.5 352.5v2M291.6 352.5v1.2M293.9 352.5v1.2M296.9 352.5v1.2M298.9 352.5v1.2M301 352.5v2M305.1 352.5v1.2M307.4 352.5v1.2M310.4 352.5v1.2M312.4 352.5v1.2M314.5 352.5v2M318.6 352.5v1.2M320.9 352.5v1.2M323.9 352.5v1.2M325.9 352.5v1.2M328 352.5v2M332.1 352.5v1.2M334.4 352.5v1.2M337.4 352.5v1.2M339.4 352.5v1.2M341.5 352.5v2M287.5 352.5h-2M287.5 348.4h-1.2M287.5 345.9h-1.2M287.5 342.9h-1.2M287.5 340.9h-1.2M287.5 338.8h-2M287.5 334.6h-1.2M287.5 332.2h-1.2M287.5 329.1h-1.2M287.5 327.1h-1.2M287.5 325h-2M287.5 320.9h-1.2M287.5 318.4h-1.2M287.5 315.4h-1.2M287.5 313.4h-1.2M287.5 311.2h-2M287.5 307.1h-1.2M287.5 304.7h-1.2M287.5 301.6h-1.2M287.5 299.6h-1.2M287.5 297.5h-2" stroke="#222" stroke-width=".7" stroke-linecap="butt"/>
<g font-size="6.6" fill="#222" style="stroke:none" letter-spacing="-.4"><text x="285.8" y="361">10<tspan dy="-2.4" font-size="4.8">0</tspan></text><text x="300.7" y="361">10<tspan dy="-2.4" font-size="4.8">1</tspan></text><text x="313.9" y="361">10<tspan dy="-2.4" font-size="4.8">2</tspan></text><text x="326.5" y="361">10<tspan dy="-2.4" font-size="4.8">3</tspan></text><text x="336.6" y="361">10<tspan dy="-2.4" font-size="4.8">4</tspan></text><text transform="translate(285.3 353.7) rotate(-90)">10<tspan dy="-2.4" font-size="4.8">0</tspan></text><text transform="translate(285.3 341.1) rotate(-90)">10<tspan dy="-2.4" font-size="4.8">1</tspan></text><text transform="translate(285.3 328.3) rotate(-90)">10<tspan dy="-2.4" font-size="4.8">2</tspan></text><text transform="translate(285.3 315.6) rotate(-90)">10<tspan dy="-2.4" font-size="4.8">3</tspan></text><text transform="translate(285.3 302.2) rotate(-90)">10<tspan dy="-2.4" font-size="4.8">4</tspan></text></g></g>
<g fill="none" stroke="#0c0c0c" stroke-width="1" stroke-linecap="square"><path d="M369.5 296.5H424.5V351.5H369.5ZM390.5 296.5V351.5M369.5 327.5H424.5" stroke="#1c1c1c" stroke-linecap="butt"/>
<path id="d10" d="M399.5 299.5h0M398.5 300.5h1M382.5 301.5h0m9 0h0m7 0h0M391.5 302.5h0M390.5 303.5h0m6 0h1M390.5 304.5h1m2 0h1m2 0h3m3 0h0M391.5 305.5h0m2 0h0m2 0h1m3 0h4M387.5 306.5h0m4 0h1m3 0h4m2 0h3m2 0h0m2 0h0m4 0h0M388.5 307.5h0m2 0h14m2 0h2m5 0h0M387.5 308.5h4m2 0h1m2 0h11m2 0h0m5 0h1M386.5 309.5h3m2 0h15m2 0h0m2 0h0M385.5 310.5h0m3 0h3m3 0h2m2 0h3m2 0h4m2 0h1m3 0h0M381.5 311.5h0m2 0h1m2 0h1m2 0h0m2 0h17m3 0h1M381.5 312.5h1m2 0h0m2 0h0m2 0h24M375.5 313.5h0m6 0h3m2 0h2m2 0h14m2 0h7M374.5 314.5h0m6 0h1m3 0h2m2 0h17m2 0h5M384.5 315.5h2m2 0h24m2 0h1M388.5 316.5h21m2 0h0M385.5 317.5h3m2 0h14m2 0h4M384.5 318.5h2m2 0h13m2 0h7m2 0h0M382.5 319.5h1m3 0h25M382.5 320.5h1m4 0h19m2 0h2M384.5 321.5h1m2 0h20m2 0h1M385.5 322.5h16m2 0h1m2 0h5M383.5 323.5h1m2 0h24m2 0h0M372.5 324.5h0m10 0h0m3 0h1m2 0h2m2 0h0m2 0h17m2 0h0M386.5 325.5h25m5 0h0M386.5 326.5h22m2 0h0M383.5 327.5h0m3 0h2m2 0h16m2 0h0m2 0h1M380.5 328.5h0m6 0h2m4 0h18M380.5 329.5h1m5 0h2m4 0h11m3 0h0m3 0h0M381.5 330.5h0m6 0h0m4 0h2m3 0h3m2 0h2m2 0h1m3 0h1M386.5 331.5h2m4 0h4m4 0h4m3 0h3M387.5 332.5h0m4 0h0m2 0h2m2 0h4m2 0h2m3 0h0m2 0h1M391.5 333.5h1m2 0h1m2 0h8m2 0h1m2 0h0M390.5 334.5h3m2 0h0m2 0h1m2 0h1m2 0h2m2 0h2M388.5 335.5h3m2 0h2m2 0h1m3 0h0m2 0h0m2 0h0m3 0h0M389.5 336.5h0m3 0h2m2 0h2m2 0h1m2 0h0m2 0h3M389.5 337.5h0m8 0h1m2 0h1m2 0h1m3 0h0M399.5 338.5h4m9 0h1M398.5 339.5h0m2 0h1m2 0h1M388.5 340.5h1m3 0h0m7 0h0M388.5 341.5h2m3 0h0M395.5 342.5h1m6 0h1m2 0h1M391.5 343.5h0m5 0h0m7 0h2m2 0h0M395.5 344.5h1m10 0h0m2 0h1M404.5 346.5h0"/>
<use href="#d10" stroke-width="2" opacity=".32"/>
<path id="s10" d="M396.5 298.5h0m3 0h0m6 0h0m3 0h0m6 0h1M373.5 299.5h0m15 0h0m21 0h1m3 0h0m10 0h0M382.5 300.5h1m7 0h0m13 0h0m3 0h0M378.5 301.5h0m8 0h0m6 0h0m3 0h0m7 0h0m5 0h0M374.5 302.5h0m5 0h0m2 0h0m6 0h0m11 0h0m4 0h0m9 0h0m8 0h0M374.5 303.5h0m5 0h0m5 0h0m2 0h0m7 0h0m7 0h0m3 0h0m2 0h0m3 0h1M380.5 304.5h0m4 0h0m5 0h0m18 0h0m14 0h0M370.5 305.5h0m9 0h0m4 0h0m3 0h0m20 0h0m3 0h0m2 0h0m7 0h0m2 0h0M375.5 306.5h0m4 0h0m7 0h0m25 0h0M374.5 307.5h0m2 0h0m3 0h0m36 0h0M382.5 308.5h1m2 0h0m25 0h0m2 0h0M371.5 309.5h0m5 0h0m40 0h0m3 0h1m2 0h1M370.5 310.5h0m2 0h0m6 0h2m34 0h0m9 0h0M414.5 311.5h0m3 0h0M375.5 312.5h0m4 0h0m43 0h0M370.5 313.5h0m3 0h0m5 0h0m39 0h0m2 0h0M376.5 314.5h0m39 0h0M375.5 315.5h0m4 0h0m3 0h0m39 0h0M380.5 316.5h0m35 0h0m2 0h0M377.5 317.5h0m2 0h0m4 0h0m29 0h0m11 0h0M373.5 318.5h1m3 0h0m4 0h0m34 0h1m3 0h1m2 0h0M375.5 319.5h0m2 0h0m2 0h0m33 0h0m5 0h0m5 0h0M377.5 320.5h0m4 0h0m36 0h0m4 0h0M372.5 321.5h0m40 0h0m4 0h0M370.5 322.5h0m7 0h0m42 0h0M373.5 323.5h0m9 0h0m31 0h0m2 0h0M371.5 324.5h0m9 0h0m37 0h0M371.5 325.5h0m2 0h0m5 0h0m5 0h0m30 0h0M374.5 326.5h0m5 0h0m5 0h0m32 0h1m2 0h0M370.5 327.5h0m6 0h2m3 0h1m39 0h0M384.5 328.5h0m30 0h0m2 0h0m3 0h0m3 0h0M370.5 329.5h0m6 0h0m14 0h0m28 0h0M378.5 330.5h0m7 0h0m5 0h0m23 0h1M375.5 331.5h0m2 0h0m3 0h0m2 0h0m32 0h0m5 0h0M371.5 332.5h0m2 0h0m12 0h0m5 0h0m26 0h1M374.5 333.5h0m8 0h1m4 0h0m28 0h0M376.5 334.5h0m5 0h0m29 0h0m5 0h0m4 0h0M381.5 335.5h0m31 0h0m4 0h0M374.5 336.5h1m4 0h0m6 0h0m2 0h0m29 0h0M386.5 337.5h0m5 0h0m19 0h0m2 0h0m2 0h0M371.5 338.5h1m16 0h1m2 0h0m3 0h1m10 0h0m3 0h0m7 0h0M378.5 339.5h1m14 0h0m4 0h0m14 0h0M378.5 340.5h0m8 0h0m5 0h0m22 0h0M384.5 341.5h0m10 0h0m2 0h0m4 0h0m6 0h0m9 0h0m4 0h0M382.5 342.5h0m6 0h0m4 0h0m20 0h0m4 0h0M371.5 343.5h0m2 0h0m27 0h1m8 0h0M377.5 344.5h0m3 0h0m4 0h0m6 0h1m2 0h0m6 0h0m21 0h0M373.5 345.5h0m5 0h0m4 0h0m6 0h0m7 0h0m2 0h0m2 0h0m4 0h1m2 0h0m3 0h0M371.5 346.5h0m10 0h0m3 0h0m33 0h0M379.5 347.5h0m11 0h0m4 0h0m2 0h0m9 0h0m8 0h0m5 0h0M374.5 348.5h0m17 0h0m3 0h0m2 0h1m8 0h0M371.5 349.5h0m11 0h0m6 0h0m13 0h0m2 0h0M372.5 350.5h0m11 0h1m12 0h0m12 0h0m5 0h0" stroke="#555"/>
<use href="#s10" stroke-width="2" opacity=".2"/>
<path d="M369.5 351.5v2M373.6 351.5v1.2M376.1 351.5v1.2M379.1 351.5v1.2M381.1 351.5v1.2M383.2 351.5v2M387.4 351.5v1.2M389.8 351.5v1.2M392.9 351.5v1.2M394.9 351.5v1.2M397 351.5v2M401.1 351.5v1.2M403.6 351.5v1.2M406.6 351.5v1.2M408.6 351.5v1.2M410.8 351.5v2M414.9 351.5v1.2M417.3 351.5v1.2M420.4 351.5v1.2M422.4 351.5v1.2M424.5 351.5v2M369.5 351.5h-2M369.5 347.4h-1.2M369.5 344.9h-1.2M369.5 341.9h-1.2M369.5 339.9h-1.2M369.5 337.8h-2M369.5 333.6h-1.2M369.5 331.2h-1.2M369.5 328.1h-1.2M369.5 326.1h-1.2M369.5 324h-2M369.5 319.9h-1.2M369.5 317.4h-1.2M369.5 314.4h-1.2M369.5 312.4h-1.2M369.5 310.2h-2M369.5 306.1h-1.2M369.5 303.7h-1.2M369.5 300.6h-1.2M369.5 298.6h-1.2M369.5 296.5h-2" stroke="#222" stroke-width=".7" stroke-linecap="butt"/>
<g font-size="6.6" fill="#222" style="stroke:none" letter-spacing="-.4"><text x="367.8" y="360">10<tspan dy="-2.4" font-size="4.8">0</tspan></text><text x="382.9" y="360">10<tspan dy="-2.4" font-size="4.8">1</tspan></text><text x="396.4" y="360">10<tspan dy="-2.4" font-size="4.8">2</tspan></text><text x="409.2" y="360">10<tspan dy="-2.4" font-size="4.8">3</tspan></text><text x="419.6" y="360">10<tspan dy="-2.4" font-size="4.8">4</tspan></text><text transform="translate(367.3 352.7) rotate(-90)">10<tspan dy="-2.4" font-size="4.8">0</tspan></text><text transform="translate(367.3 340.1) rotate(-90)">10<tspan dy="-2.4" font-size="4.8">1</tspan></text><text transform="translate(367.3 327.3) rotate(-90)">10<tspan dy="-2.4" font-size="4.8">2</tspan></text><text transform="translate(367.3 314.6) rotate(-90)">10<tspan dy="-2.4" font-size="4.8">3</tspan></text><text transform="translate(367.3 301.2) rotate(-90)">10<tspan dy="-2.4" font-size="4.8">4</tspan></text></g></g>
<path d="M7.6 280.2V243" stroke="#111" stroke-width="1.8"/><path d="M7.6 235.2L3.2 245.6H12Z" fill="#111"/>
<text transform="translate(13.6 346.6) rotate(-90)" font-size="14.2">CD11c</text>
<text x="42.2" y="376.7" font-size="15.1">CD74</text>
<text x="130.2" y="376.7" font-size="15.1">CD40</text>
<text x="212.4" y="376.7" font-size="15.1">CD80</text>
<text x="295.3" y="376.7" font-size="15.1">CD86</text>
<text x="377.6" y="376.7" font-size="15.1">I-Ab</text>
<text x="434.2" y="248.6" font-size="14.9">Control ODN</text>
<text x="433.7" y="336.3" font-size="15">Ii AS ODN</text>
</svg>
</body></html>
